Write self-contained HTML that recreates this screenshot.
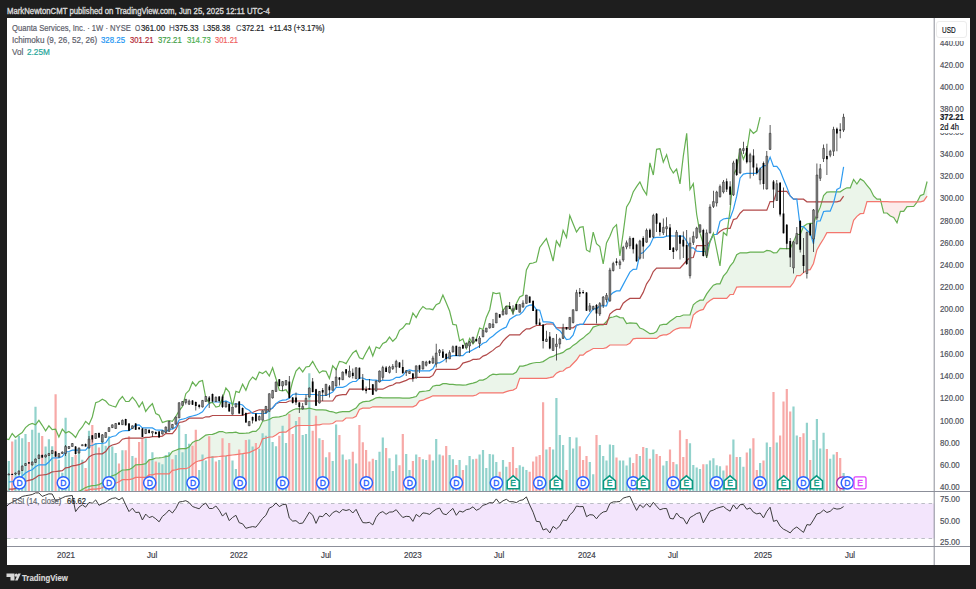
<!DOCTYPE html>
<html><head><meta charset="utf-8">
<style>
html,body{margin:0;padding:0;}
body{width:976px;height:589px;background:#1e1e1e;position:relative;overflow:hidden;font-family:"Liberation Sans",sans-serif;}
#chart{position:absolute;left:7px;top:18px;width:963px;height:546.6px;background:#fff;}
svg{position:absolute;left:0;top:0;}
.mk{font:8.5px "Liberation Sans",sans-serif;text-anchor:middle;stroke-width:0.35px;}
.t{position:absolute;white-space:nowrap;line-height:1;transform-origin:0 0;}
</style></head><body>
<div id="chart"></div>
<svg width="976" height="589" viewBox="0 0 976 589">
<defs><clipPath id="cm"><rect x="7" y="18" width="927.5" height="473"/></clipPath><clipPath id="cr"><rect x="7" y="492" width="927.5" height="54"/></clipPath></defs>
<g clip-path="url(#cm)">
<path d="M55.6 494.7L59.1 494.3L59.1 494.8L55.6 494.8ZM58.9 494.3L62.5 493.9L62.5 494.8L58.9 494.8ZM62.3 493.9L65.8 493.5L65.8 494.8L62.3 494.8ZM65.6 493.5L69.1 493.2L69.1 494.8L65.6 494.8ZM68.9 493.2L72.5 492.8L72.5 494.8L68.9 494.8ZM72.3 492.8L75.8 492.2L75.8 494.8L72.3 494.8ZM75.6 492.2L79.2 491.4L79.2 494.2L75.6 494.8ZM79 491.4L82.5 489.6L82.5 492.5L79 494.2ZM82.3 489.6L85.8 487.6L85.8 490.8L82.3 492.5ZM85.6 487.6L89.2 486.3L89.2 489.7L85.6 490.8ZM89 486.3L92.5 485.6L92.5 489.2L89 489.7ZM92.3 485.6L95.9 485.4L95.9 489.2L92.3 489.2ZM95.7 485.4L99.2 484.6L99.2 488.7L95.7 489.2ZM99 484.6L102.5 482.9L102.5 487.7L99 488.7ZM102.3 482.9L105.9 479.7L105.9 485.2L102.3 487.7ZM105.7 479.7L109.2 477.2L109.2 483.9L105.7 485.2ZM109 477.2L112.5 475.7L112.5 483.4L109 483.9ZM112.3 475.7L115.9 474.7L115.9 483.2L112.3 483.4ZM115.7 474.7L119.2 472.2L119.2 481.7L115.7 483.2ZM119 472.2L122.6 470L122.6 479.7L119 481.7ZM122.4 470L125.9 469.9L125.9 479.7L122.4 479.7ZM125.7 469.9L129.2 469.7L129.2 479.7L125.7 479.7ZM129 469.7L132.6 467.8L132.6 478.9L129 479.7ZM132.4 467.8L135.9 464.9L135.9 477.4L132.4 478.9ZM135.7 464.9L139.3 464.6L139.3 477.4L135.7 477.4ZM139.1 464.6L142.6 464.4L142.6 477.4L139.1 477.4ZM142.4 464.4L145.9 463.6L145.9 477.4L142.4 477.4ZM145.7 463.6L149.3 459.9L149.3 474.9L145.7 477.4ZM149.1 459.9L152.6 459.4L152.6 474.9L149.1 474.9ZM152.4 459.4L156 458L156 473.9L152.4 474.9ZM155.8 458L159.3 457.8L159.3 473.9L155.8 473.9ZM159.1 457.8L162.6 457.5L162.6 473.9L159.1 473.9ZM162.4 457.5L166 456.7L166 473.9L162.4 473.9ZM165.8 456.7L169.3 455.9L169.3 473.9L165.8 473.9ZM169.1 455.9L172.6 451.5L172.6 470.4L169.1 473.9ZM172.4 451.5L176 450.2L176 469.9L172.4 470.4ZM175.8 450.2L179.3 448.9L179.3 468.9L175.8 469.9ZM179.1 448.9L182.7 448.6L182.7 468.7L179.1 468.9ZM182.5 448.6L186 448.6L186 468.7L182.5 468.7ZM185.8 448.6L189.3 447.1L189.3 467.5L185.8 468.7ZM189.1 447.1L192.7 442.4L192.7 464.4L189.1 467.5ZM192.5 442.4L196 440.8L196 462L192.5 464.4ZM195.8 440.8L199.4 440L199.4 460.8L195.8 462ZM199.2 440L202.7 437.6L202.7 460.2L199.2 460.8ZM202.5 437.6L206 435.1L206 458.2L202.5 460.2ZM205.8 435.1L209.4 434.5L209.4 457.4L205.8 458.2ZM209.2 434.5L212.7 434.4L212.7 457.1L209.2 457.4ZM212.5 434.4L216.1 433.1L216.1 456.8L212.5 457.1ZM215.9 433.1L219.4 431.6L219.4 456.5L215.9 456.8ZM219.2 431.6L222.7 431.5L222.7 456.1L219.2 456.5ZM222.5 431.5L226.1 433L226.1 455.8L222.5 456.1ZM225.9 433L229.4 432.6L229.4 455.4L225.9 455.8ZM229.2 432.6L232.7 432.6L232.7 455L229.2 455.4ZM232.5 432.6L236.1 432.2L236.1 454.6L232.5 455ZM235.9 432.2L239.4 433.3L239.4 454.2L235.9 454.6ZM239.2 433.3L242.8 433.4L242.8 453.7L239.2 454.2ZM242.6 433.4L246.1 433.2L246.1 453.1L242.6 453.7ZM245.9 433.2L249.4 432.8L249.4 452.6L245.9 453.1ZM249.2 432.8L252.8 431.4L252.8 451L249.2 452.6ZM252.6 431.4L256.1 431.4L256.1 449.4L252.6 451ZM255.9 431.4L259.5 428.2L259.5 447.2L255.9 449.4ZM259.3 428.2L262.8 421.2L262.8 438.8L259.3 447.2ZM262.6 421.2L266.1 420.5L266.1 438L262.6 438.8ZM265.9 420.5L269.5 419.5L269.5 437L265.9 438ZM269.3 419.5L272.8 417.5L272.8 437L269.3 437ZM272.6 417.5L276.2 417.1L276.2 435L272.6 437ZM276 417.1L279.5 416.8L279.5 432.5L276 435ZM279.3 416.8L282.8 416L282.8 432.2L279.3 432.5ZM282.6 416L286.2 415L286.2 432.2L282.6 432.2ZM286 415L289.5 411.9L289.5 429.5L286 432.2ZM289.3 411.9L292.9 410L292.9 427.5L289.3 429.5ZM292.7 410L296.2 408.8L296.2 425.8L292.7 427.5ZM296 408.8L299.5 408.8L299.5 425.5L296 425.8ZM299.3 408.8L302.9 408.8L302.9 425.5L299.3 425.5ZM302.7 408.8L306.2 408.8L306.2 425.5L302.7 425.5ZM306 408.8L309.5 408.2L309.5 425.5L306 425.5ZM309.3 408.2L312.9 409L312.9 425.5L309.3 425.5ZM312.7 409L316.2 409.8L316.2 424.8L312.7 425.5ZM316 409.8L319.6 409.8L319.6 424.8L316 424.8ZM319.4 409.8L322.9 409.8L322.9 424L319.4 424.8ZM322.7 409.8L326.2 410.2L326.2 424L322.7 424ZM326 410.2L329.6 411.3L329.6 424L326 424ZM329.4 411.3L332.9 411.8L332.9 423.5L329.4 424ZM332.7 411.8L336.3 413L336.3 421L332.7 423.5ZM336.1 413L339.6 412.2L339.6 421L336.1 421ZM339.4 412.2L342.9 411.6L342.9 421L339.4 421ZM342.7 411.6L346.3 411.6L346.3 418L342.7 421ZM346.1 411.6L349.6 411.6L349.6 418L346.1 418ZM349.4 411.6L353 409.8L353 418L349.4 418ZM352.8 409.8L356.3 408L356.3 416.2L352.8 418ZM356.1 408L359.6 403.8L359.6 409.5L356.1 416.2ZM359.4 403.8L363 401.9L363 408.2L359.4 409.5ZM362.8 401.9L366.3 401.4L366.3 408.2L362.8 408.2ZM366.1 401.4L369.6 401.1L369.6 408.2L366.1 408.2ZM369.4 401.1L373 399.6L373 406.8L369.4 408.2ZM372.8 399.6L376.3 397.8L376.3 406.8L372.8 406.8ZM376.1 397.8L379.7 397.4L379.7 406.8L376.1 406.8ZM379.5 397.4L383 397.8L383 406.8L379.5 406.8ZM382.8 397.8L386.3 397.8L386.3 406.8L382.8 406.8ZM386.1 397.8L389.7 397.8L389.7 406.8L386.1 406.8ZM389.5 397.8L393 397.8L393 406.8L389.5 406.8ZM392.8 397.8L396.4 397.8L396.4 406.8L392.8 406.8ZM396.2 397.8L399.7 397.8L399.7 406.8L396.2 406.8ZM399.5 397.8L403 398.2L403 406.8L399.5 406.8ZM402.8 398.2L406.4 398.2L406.4 406.8L402.8 406.8ZM406.2 398.2L409.7 398.2L409.7 406.8L406.2 406.8ZM409.5 398.2L413.1 397.4L413.1 406.8L409.5 406.8ZM412.9 397.4L416.4 396.5L416.4 405.2L412.9 406.8ZM416.2 396.5L419.7 391.8L419.7 400.9L416.2 405.2ZM419.5 391.8L423.1 391.3L423.1 400.2L419.5 400.9ZM422.9 391.3L426.4 391L426.4 398.6L422.9 400.2ZM426.2 391L429.8 390.4L429.8 397.4L426.2 398.6ZM429.6 390.4L433.1 386.2L433.1 395.8L429.6 397.4ZM432.9 386.2L436.4 385.4L436.4 395.8L432.9 395.8ZM436.2 385.4L439.8 385.4L439.8 395.8L436.2 395.8ZM439.6 385.4L443.1 383.6L443.1 395.8L439.6 395.8ZM442.9 383.6L446.4 383.6L446.4 395.8L442.9 395.8ZM446.2 383.6L449.8 384.4L449.8 395.8L446.2 395.8ZM449.6 384.4L453.1 384.4L453.1 395.8L449.6 395.8ZM452.9 384.4L456.5 384.8L456.5 395.8L452.9 395.8ZM456.3 384.8L459.8 384.8L459.8 395.8L456.3 395.8ZM459.6 384.8L463.1 385.2L463.1 395.8L459.6 395.8ZM462.9 385.2L466.5 384.8L466.5 395.8L462.9 395.8ZM466.3 384.8L469.8 383.9L469.8 395.8L466.3 395.8ZM469.6 383.9L473.2 383.1L473.2 395.8L469.6 395.8ZM473 383.1L476.5 382.2L476.5 395L473 395.8ZM476.3 382.2L479.8 380.1L479.8 392.8L476.3 395ZM479.6 380.1L483.2 380.1L483.2 392.8L479.6 392.8ZM483 380.1L486.5 378.6L486.5 392.8L483 392.8ZM486.3 378.6L489.9 375.7L489.9 392.8L486.3 392.8ZM489.7 375.7L493.2 374.2L493.2 392.8L489.7 392.8ZM493 374.2L496.5 374.7L496.5 392.8L493 392.8ZM496.3 374.7L499.9 374.1L499.9 392.8L496.3 392.8ZM499.7 374.1L503.2 374.1L503.2 392.8L499.7 392.8ZM503 374.1L506.5 374.1L506.5 391.6L503 392.8ZM506.3 374.1L509.9 374.1L509.9 390.6L506.3 391.6ZM509.7 374.1L513.2 374.1L513.2 390.1L509.7 390.6ZM513 374.1L516.6 372.1L516.6 388.2L513 390.1ZM516.4 372.1L519.9 366.1L519.9 378.3L516.4 388.2ZM519.7 366.1L523.2 366.1L523.2 378.3L519.7 378.3ZM523 366.1L526.6 365.2L526.6 378.3L523 378.3ZM526.4 365.2L529.9 363.9L529.9 378.3L526.4 378.3ZM529.7 363.9L533.3 363L533.3 378.3L529.7 378.3ZM533.1 363L536.6 362.5L536.6 378.3L533.1 378.3ZM536.4 362.5L539.9 362.5L539.9 378.3L536.4 378.3ZM539.7 362.5L543.3 361.6L543.3 378.3L539.7 378.3ZM543.1 361.6L546.6 359.4L546.6 378.3L543.1 378.3ZM546.4 359.4L550 357.3L550 377.7L546.4 378.3ZM549.8 357.3L553.3 356.4L553.3 376.9L549.8 377.7ZM553.1 356.4L556.6 354.5L556.6 373.2L553.1 376.9ZM556.4 354.5L560 353.6L560 371.4L556.4 373.2ZM559.8 353.6L563.3 352.4L563.3 371L559.8 371.4ZM563.1 352.4L566.7 349.6L566.7 368.1L563.1 371ZM566.5 349.6L570 348.4L570 367L566.5 368.1ZM569.8 348.4L573.3 345.4L573.3 363.5L569.8 367ZM573.1 345.4L576.7 343.2L576.7 360L573.1 363.5ZM576.5 343.2L580 340.2L580 355.2L576.5 360ZM579.8 340.2L583.3 338.1L583.3 355.2L579.8 355.2ZM583.1 338.1L586.7 334.9L586.7 352.1L583.1 355.2ZM586.5 334.9L590 332.4L590 350.5L586.5 352.1ZM589.8 332.4L593.4 327.1L593.4 348.5L589.8 350.5ZM593.2 327.1L596.7 326L596.7 348.5L593.2 348.5ZM596.5 326L600 325L600 348.5L596.5 348.5ZM599.8 325L603.4 324.8L603.4 348.5L599.8 348.5ZM603.2 324.8L606.7 321.5L606.7 347.6L603.2 348.5ZM606.5 321.5L610.1 317.6L610.1 345L606.5 347.6ZM609.9 317.6L613.4 317L613.4 345L609.9 345ZM613.2 317L616.7 315.9L616.7 345L613.2 345ZM616.5 315.9L620.1 317.6L620.1 345L616.5 345ZM619.9 317.6L623.4 317.9L623.4 345L619.9 345ZM623.2 317.9L626.8 323.6L626.8 345L623.2 345ZM626.6 323.6L630.1 322.9L630.1 343.2L626.6 345ZM629.9 322.9L633.4 323.1L633.4 338.8L629.9 343.2ZM633.2 323.1L636.8 323.4L636.8 338.4L633.2 338.8ZM636.6 323.4L640.1 328.1L640.1 338.4L636.6 338.4ZM639.9 328.1L643.4 329.2L643.4 338.4L639.9 338.4ZM643.2 329.2L646.8 331.4L646.8 338.4L643.2 338.4ZM646.6 331.4L650.1 333.7L650.1 338.4L646.6 338.4ZM649.9 333.7L653.5 333.4L653.5 338.4L649.9 338.4ZM653.3 333.4L656.8 331.5L656.8 338.4L653.3 338.4ZM656.6 331.5L660.1 325.2L660.1 335.8L656.6 338.4ZM659.9 325.2L663.5 324.3L663.5 334.9L659.9 335.8ZM663.3 324.3L666.8 324.3L666.8 334.9L663.3 334.9ZM666.6 324.3L670.2 321.3L670.2 333.2L666.6 334.9ZM670 321.3L673.5 318.9L673.5 330.5L670 333.2ZM673.3 318.9L676.8 316.5L676.8 328.8L673.3 330.5ZM676.6 316.5L680.2 316.5L680.2 327.8L676.6 328.8ZM680 316.5L683.5 315L683.5 327.8L680 327.8ZM683.3 315L686.9 315L686.9 327.8L683.3 327.8ZM686.7 315L690.2 315L690.2 327.8L686.7 327.8ZM690 315L693.5 304.9L693.5 315.1L690 327.8ZM693.3 304.9L696.9 301.9L696.9 312.1L693.3 315.1ZM696.7 301.9L700.2 300.1L700.2 310.3L696.7 312.1ZM700 300.1L703.5 300.1L703.5 309.4L700 310.3ZM703.3 300.1L706.9 293.9L706.9 303.2L703.3 309.4ZM706.7 293.9L710.2 289.4L710.2 300.5L706.7 303.2ZM710 289.4L713.6 285.2L713.6 298.4L710 300.5ZM713.4 285.2L716.9 283.9L716.9 298.4L713.4 298.4ZM716.7 283.9L720.2 283.8L720.2 298.4L716.7 298.4ZM720 283.8L723.6 276.2L723.6 298.4L720 298.4ZM723.4 276.2L726.9 272.5L726.9 298.4L723.4 298.4ZM726.7 272.5L730.3 266.2L730.3 294.5L726.7 298.4ZM730.1 266.2L733.6 262.1L733.6 294.5L730.1 294.5ZM733.4 262.1L736.9 254.7L736.9 287.1L733.4 294.5ZM736.7 254.7L740.3 252.8L740.3 286.8L736.7 287.1ZM740.1 252.8L743.6 252.8L743.6 286.8L740.1 286.8ZM743.4 252.8L747 252.8L747 286.8L743.4 286.8ZM746.8 252.8L750.3 252.2L750.3 286.8L746.8 286.8ZM750.1 252.2L753.6 252.1L753.6 286.8L750.1 286.8ZM753.4 252.1L757 252.1L757 286.8L753.4 286.8ZM756.8 252.1L760.3 252.1L760.3 286.8L756.8 286.8ZM760.1 252.1L763.7 252.2L763.7 286.8L760.1 286.8ZM763.5 252.2L767 250.4L767 286.8L763.5 286.8ZM766.8 250.4L770.3 250.8L770.3 286.8L766.8 286.8ZM770.1 250.8L773.7 252.8L773.7 286.8L770.1 286.8ZM773.5 252.8L777 252.6L777 286.8L773.5 286.8ZM776.8 252.6L780.3 248.4L780.3 286.8L776.8 286.8ZM780.1 248.4L783.7 248.6L783.7 286.8L780.1 286.8ZM783.5 248.6L787 248.6L787 286.8L783.5 286.8ZM786.8 248.6L790.4 248.6L790.4 286.8L786.8 286.8ZM790.2 248.6L793.7 241.4L793.7 282.5L790.2 286.8ZM793.5 241.4L797 234.5L797 275.6L793.5 282.5ZM796.8 234.5L800.4 234.5L800.4 275.6L796.8 275.6ZM800.2 234.5L803.7 226.4L803.7 272.6L800.2 275.6ZM803.5 226.4L807.1 224L807.1 270.2L803.5 272.6ZM806.9 224L810.4 223.3L810.4 269.6L806.9 270.2ZM810.2 223.3L813.7 223.3L813.7 263.5L810.2 269.6ZM813.5 223.3L817.1 214.5L817.1 249.9L813.5 263.5ZM816.9 214.5L820.4 207.4L820.4 244.1L816.9 249.9ZM820.2 207.4L823.8 195.5L823.8 238.7L820.2 244.1ZM823.6 195.5L827.1 192.1L827.1 232.7L823.6 238.7ZM826.9 192.1L830.4 191.8L830.4 232.7L826.9 232.7ZM830.2 191.8L833.8 191.8L833.8 232.7L830.2 232.7ZM833.6 191.8L837.1 191.8L837.1 232.7L833.6 232.7ZM836.9 191.8L840.4 191.8L840.4 232.7L836.9 232.7ZM840.2 191.8L843.8 189.5L843.8 232.7L840.2 232.7ZM843.6 189.5L847.1 187.8L847.1 232.7L843.6 232.7ZM846.9 187.8L850.5 187.8L850.5 232.7L846.9 232.7ZM850.3 187.8L853.8 179.4L853.8 220.4L850.3 232.7ZM853.6 179.4L857.1 184L857.1 216.4L853.6 220.4ZM856.9 184L860.5 178.9L860.5 213.7L856.9 216.4ZM860.3 178.9L863.8 181L863.8 213.4L860.3 213.7ZM863.6 181L867.2 185.3L867.2 201.6L863.6 213.4ZM867 185.3L870.5 189.3L870.5 201.6L867 201.6ZM870.3 189.3L873.8 195.9L873.8 201.6L870.3 201.6ZM873.6 195.9L877.2 199.2L877.2 201.6L873.6 201.6ZM877 199.2L880.5 199.2L880.5 201.6L877 201.6ZM917 202.2L920.6 195.6L920.6 201.8L917 201.8ZM920.4 195.6L923.9 194.3L923.9 200.9L920.4 201.8ZM923.7 194.3L927.3 181.5L927.3 196.2L923.7 200.9Z" fill="#ebf5ea"/>
<path d="M5.5 490.4L9 492.2L9 492.1L5.5 490.3ZM8.8 492.2L12.4 493.6L12.4 493.5L8.8 492.1ZM12.2 493.6L15.7 495L15.7 494.8L12.2 493.5ZM15.5 495L19.1 495L19.1 494.8L15.5 494.8ZM18.9 495L22.4 495.1L22.4 494.8L18.9 494.8ZM22.2 495.1L25.7 495.1L25.7 494.8L22.2 494.8ZM25.5 495.1L29.1 496.1L29.1 494.8L25.5 494.8ZM28.9 496.1L32.4 497L32.4 494.8L28.9 494.8ZM32.2 497L35.7 497.3L35.7 494.8L32.2 494.8ZM35.5 497.3L39.1 497.1L39.1 494.8L35.5 494.8ZM38.9 497.1L42.4 496.9L42.4 494.8L38.9 494.8ZM42.2 496.9L45.8 496.3L45.8 494.8L42.2 494.8ZM45.6 496.3L49.1 495.7L49.1 494.8L45.6 494.8ZM48.9 495.7L52.4 495.1L52.4 494.8L48.9 494.8ZM52.2 495.1L55.8 494.7L55.8 494.8L52.2 494.8ZM880.3 199.2L883.9 213L883.9 201.6L880.3 201.6ZM883.7 213L887.2 213L887.2 201.6L883.7 201.6ZM887 213L890.5 216L890.5 201.8L887 201.6ZM890.3 216L893.9 217.4L893.9 201.8L890.3 201.8ZM893.7 217.4L897.2 222.8L897.2 201.8L893.7 201.8ZM897 222.8L900.6 211.4L900.6 201.8L897 201.8ZM900.4 211.4L903.9 211.4L903.9 201.8L900.4 201.8ZM903.7 211.4L907.2 206.6L907.2 201.8L903.7 201.8ZM907 206.6L910.6 206.5L910.6 201.8L907 201.8ZM910.4 206.5L913.9 206.5L913.9 201.8L910.4 201.8ZM913.7 206.5L917.2 202.2L917.2 201.8L913.7 201.8Z" fill="#fcebea"/>
<path d="M7.7 461.1h2.2V491.5h-2.2ZM14.4 439.5h2.2V491.5h-2.2ZM17.8 435.8h2.2V491.5h-2.2ZM21.1 438.2h2.2V491.5h-2.2ZM24.4 434.1h2.2V491.5h-2.2ZM31.1 429.8h2.2V491.5h-2.2ZM34.4 406.8h2.2V491.5h-2.2ZM37.8 432.8h2.2V491.5h-2.2ZM44.5 446.6h2.2V491.5h-2.2ZM47.8 439.3h2.2V491.5h-2.2ZM51.1 446.2h2.2V491.5h-2.2ZM57.8 459.7h2.2V491.5h-2.2ZM61.2 472.7h2.2V491.5h-2.2ZM64.5 417.7h2.2V491.5h-2.2ZM67.8 452.2h2.2V491.5h-2.2ZM71.2 456.9h2.2V491.5h-2.2ZM77.9 448.5h2.2V491.5h-2.2ZM81.2 459.7h2.2V491.5h-2.2ZM87.9 430.7h2.2V491.5h-2.2ZM94.6 442.9h2.2V491.5h-2.2ZM101.2 437.3h2.2V491.5h-2.2ZM104.6 445.7h2.2V491.5h-2.2ZM107.9 436.3h2.2V491.5h-2.2ZM111.2 446.6h2.2V491.5h-2.2ZM114.6 453.1h2.2V491.5h-2.2ZM121.3 450.3h2.2V491.5h-2.2ZM131.3 455.9h2.2V491.5h-2.2ZM144.6 438.2h2.2V491.5h-2.2ZM151.3 452.2h2.2V491.5h-2.2ZM158 462.5h2.2V491.5h-2.2ZM161.3 464.3h2.2V491.5h-2.2ZM164.7 455h2.2V491.5h-2.2ZM168 452.2h2.2V491.5h-2.2ZM174.7 455h2.2V491.5h-2.2ZM178 425.1h2.2V491.5h-2.2ZM181.4 452.2h2.2V491.5h-2.2ZM184.7 433.9h2.2V491.5h-2.2ZM188 443.8h2.2V491.5h-2.2ZM198.1 470h2.2V491.5h-2.2ZM201.4 454.4h2.2V491.5h-2.2ZM204.7 460.6h2.2V491.5h-2.2ZM211.4 455.9h2.2V491.5h-2.2ZM218.1 460h2.2V491.5h-2.2ZM224.8 455.9h2.2V491.5h-2.2ZM231.4 460.6h2.2V491.5h-2.2ZM234.8 469h2.2V491.5h-2.2ZM241.5 454h2.2V491.5h-2.2ZM248.1 439.5h2.2V491.5h-2.2ZM251.5 446.6h2.2V491.5h-2.2ZM258.2 448.5h2.2V491.5h-2.2ZM261.5 433.2h2.2V491.5h-2.2ZM264.8 435.8h2.2V491.5h-2.2ZM268.2 412.1h2.2V491.5h-2.2ZM271.5 441.9h2.2V491.5h-2.2ZM274.9 446.2h2.2V491.5h-2.2ZM281.5 425.7h2.2V491.5h-2.2ZM284.9 442.9h2.2V491.5h-2.2ZM294.9 421h2.2V491.5h-2.2ZM301.6 435h2.2V491.5h-2.2ZM304.9 433.9h2.2V491.5h-2.2ZM308.2 373.2h2.2V491.5h-2.2ZM318.3 438.2h2.2V491.5h-2.2ZM324.9 457.2h2.2V491.5h-2.2ZM331.6 461.1h2.2V491.5h-2.2ZM335 424.6h2.2V491.5h-2.2ZM341.6 454.4h2.2V491.5h-2.2ZM348.3 459.3h2.2V491.5h-2.2ZM355 463.4h2.2V491.5h-2.2ZM375 460h2.2V491.5h-2.2ZM378.4 451.8h2.2V491.5h-2.2ZM381.7 437.6h2.2V491.5h-2.2ZM388.4 458.2h2.2V491.5h-2.2ZM391.7 470.9h2.2V491.5h-2.2ZM395.1 454.4h2.2V491.5h-2.2ZM405.1 454h2.2V491.5h-2.2ZM408.4 470h2.2V491.5h-2.2ZM415.1 454.4h2.2V491.5h-2.2ZM421.8 459.3h2.2V491.5h-2.2ZM425.1 460h2.2V491.5h-2.2ZM431.8 460.6h2.2V491.5h-2.2ZM435.1 439.1h2.2V491.5h-2.2ZM438.5 454.4h2.2V491.5h-2.2ZM448.5 455h2.2V491.5h-2.2ZM451.8 459.3h2.2V491.5h-2.2ZM458.5 460h2.2V491.5h-2.2ZM465.2 465.3h2.2V491.5h-2.2ZM468.5 455.9h2.2V491.5h-2.2ZM471.9 459.3h2.2V491.5h-2.2ZM478.5 454.4h2.2V491.5h-2.2ZM481.9 450h2.2V491.5h-2.2ZM485.2 468h2.2V491.5h-2.2ZM488.6 454h2.2V491.5h-2.2ZM491.9 454.4h2.2V491.5h-2.2ZM495.2 461.9h2.2V491.5h-2.2ZM501.9 460h2.2V491.5h-2.2ZM505.2 466.7h2.2V491.5h-2.2ZM518.6 465.3h2.2V491.5h-2.2ZM521.9 466.7h2.2V491.5h-2.2ZM525.3 469.9h2.2V491.5h-2.2ZM545.3 449.4h2.2V491.5h-2.2ZM552 449.4h2.2V491.5h-2.2ZM555.3 398.1h2.2V491.5h-2.2ZM558.7 435h2.2V491.5h-2.2ZM562 445.1h2.2V491.5h-2.2ZM568.7 436.9h2.2V491.5h-2.2ZM572 448.5h2.2V491.5h-2.2ZM575.4 437.6h2.2V491.5h-2.2ZM588.7 461.9h2.2V491.5h-2.2ZM592.1 474.2h2.2V491.5h-2.2ZM598.7 445.1h2.2V491.5h-2.2ZM602.1 455.9h2.2V491.5h-2.2ZM605.4 460.6h2.2V491.5h-2.2ZM608.8 444.4h2.2V491.5h-2.2ZM612.1 445.1h2.2V491.5h-2.2ZM618.8 460.6h2.2V491.5h-2.2ZM622.1 460.6h2.2V491.5h-2.2ZM625.5 465.6h2.2V491.5h-2.2ZM628.8 457.4h2.2V491.5h-2.2ZM638.8 455.9h2.2V491.5h-2.2ZM645.5 448.1h2.2V491.5h-2.2ZM652.2 449.4h2.2V491.5h-2.2ZM662.2 465.6h2.2V491.5h-2.2ZM665.5 461.1h2.2V491.5h-2.2ZM675.5 464.3h2.2V491.5h-2.2ZM688.9 443.2h2.2V491.5h-2.2ZM692.2 464.9h2.2V491.5h-2.2ZM695.6 467.5h2.2V491.5h-2.2ZM698.9 469h2.2V491.5h-2.2ZM705.6 464.3h2.2V491.5h-2.2ZM708.9 460.6h2.2V491.5h-2.2ZM712.3 458.2h2.2V491.5h-2.2ZM715.6 465.3h2.2V491.5h-2.2ZM718.9 466.2h2.2V491.5h-2.2ZM722.3 470.5h2.2V491.5h-2.2ZM732.3 439.5h2.2V491.5h-2.2ZM739 456.9h2.2V491.5h-2.2ZM742.3 466.7h2.2V491.5h-2.2ZM749 448.5h2.2V491.5h-2.2ZM759 463h2.2V491.5h-2.2ZM765.7 442.5h2.2V491.5h-2.2ZM769 447h2.2V491.5h-2.2ZM775.7 442.5h2.2V491.5h-2.2ZM792.4 406.5h2.2V491.5h-2.2ZM795.7 435.4h2.2V491.5h-2.2ZM805.8 422.7h2.2V491.5h-2.2ZM812.4 440.1h2.2V491.5h-2.2ZM815.8 419h2.2V491.5h-2.2ZM819.1 448.6h2.2V491.5h-2.2ZM822.5 432.7h2.2V491.5h-2.2ZM829.1 458.8h2.2V491.5h-2.2ZM832.5 454.5h2.2V491.5h-2.2ZM842.5 472.9h2.2V491.5h-2.2Z" fill="#92d2cc"/>
<path d="M11.1 441.5h2.2V491.5h-2.2ZM27.8 442.1h2.2V491.5h-2.2ZM41.1 436h2.2V491.5h-2.2ZM54.5 394.3h2.2V491.5h-2.2ZM74.5 455h2.2V491.5h-2.2ZM84.5 468h2.2V491.5h-2.2ZM91.2 425.1h2.2V491.5h-2.2ZM97.9 447.5h2.2V491.5h-2.2ZM117.9 463.4h2.2V491.5h-2.2ZM124.6 450.3h2.2V491.5h-2.2ZM127.9 436.3h2.2V491.5h-2.2ZM134.6 457.8h2.2V491.5h-2.2ZM138 441.9h2.2V491.5h-2.2ZM141.3 438.2h2.2V491.5h-2.2ZM148 459.7h2.2V491.5h-2.2ZM154.7 461.5h2.2V491.5h-2.2ZM171.3 459.3h2.2V491.5h-2.2ZM191.4 445.7h2.2V491.5h-2.2ZM194.7 429.8h2.2V491.5h-2.2ZM208.1 436.3h2.2V491.5h-2.2ZM214.8 461.5h2.2V491.5h-2.2ZM221.4 438.2h2.2V491.5h-2.2ZM228.1 442.9h2.2V491.5h-2.2ZM238.1 449.4h2.2V491.5h-2.2ZM244.8 440.1h2.2V491.5h-2.2ZM254.8 442.9h2.2V491.5h-2.2ZM278.2 435.8h2.2V491.5h-2.2ZM288.2 413.9h2.2V491.5h-2.2ZM291.6 433.9h2.2V491.5h-2.2ZM298.2 417.1h2.2V491.5h-2.2ZM311.6 430.7h2.2V491.5h-2.2ZM314.9 415.8h2.2V491.5h-2.2ZM321.6 440.1h2.2V491.5h-2.2ZM328.3 452.2h2.2V491.5h-2.2ZM338.3 435h2.2V491.5h-2.2ZM345 459.7h2.2V491.5h-2.2ZM351.7 451.8h2.2V491.5h-2.2ZM358.3 425.1h2.2V491.5h-2.2ZM361.7 442.3h2.2V491.5h-2.2ZM365 449.9h2.2V491.5h-2.2ZM368.3 461.5h2.2V491.5h-2.2ZM371.7 458.7h2.2V491.5h-2.2ZM385 448.1h2.2V491.5h-2.2ZM398.4 465.3h2.2V491.5h-2.2ZM401.7 434.1h2.2V491.5h-2.2ZM411.8 461.1h2.2V491.5h-2.2ZM418.4 457h2.2V491.5h-2.2ZM428.5 454.4h2.2V491.5h-2.2ZM441.8 455.5h2.2V491.5h-2.2ZM445.1 446h2.2V491.5h-2.2ZM455.2 464.9h2.2V491.5h-2.2ZM461.8 469.9h2.2V491.5h-2.2ZM475.2 458.7h2.2V491.5h-2.2ZM498.6 471.8h2.2V491.5h-2.2ZM508.6 461.9h2.2V491.5h-2.2ZM511.9 447h2.2V491.5h-2.2ZM515.3 468h2.2V491.5h-2.2ZM528.6 471.8h2.2V491.5h-2.2ZM532 461.5h2.2V491.5h-2.2ZM535.3 456.5h2.2V491.5h-2.2ZM538.6 455h2.2V491.5h-2.2ZM542 402.2h2.2V491.5h-2.2ZM548.7 447h2.2V491.5h-2.2ZM565.4 469.9h2.2V491.5h-2.2ZM578.7 446.2h2.2V491.5h-2.2ZM582 460h2.2V491.5h-2.2ZM585.4 455.9h2.2V491.5h-2.2ZM595.4 435h2.2V491.5h-2.2ZM615.4 457.4h2.2V491.5h-2.2ZM632.1 463h2.2V491.5h-2.2ZM635.5 454h2.2V491.5h-2.2ZM642.1 447h2.2V491.5h-2.2ZM648.8 458.7h2.2V491.5h-2.2ZM655.5 454h2.2V491.5h-2.2ZM658.8 455.9h2.2V491.5h-2.2ZM668.9 449.4h2.2V491.5h-2.2ZM672.2 461.9h2.2V491.5h-2.2ZM678.9 430.2h2.2V491.5h-2.2ZM682.2 456.9h2.2V491.5h-2.2ZM685.6 439.1h2.2V491.5h-2.2ZM702.2 464.3h2.2V491.5h-2.2ZM725.6 465.6h2.2V491.5h-2.2ZM729 454.4h2.2V491.5h-2.2ZM735.6 456.9h2.2V491.5h-2.2ZM745.7 452.6h2.2V491.5h-2.2ZM752.3 438.2h2.2V491.5h-2.2ZM755.7 469.9h2.2V491.5h-2.2ZM762.4 460.6h2.2V491.5h-2.2ZM772.4 392.1h2.2V491.5h-2.2ZM779 435.4h2.2V491.5h-2.2ZM782.4 401.4h2.2V491.5h-2.2ZM785.7 389.1h2.2V491.5h-2.2ZM789.1 411.5h2.2V491.5h-2.2ZM799.1 436.9h2.2V491.5h-2.2ZM802.4 433.2h2.2V491.5h-2.2ZM809.1 460h2.2V491.5h-2.2ZM825.8 448.9h2.2V491.5h-2.2ZM835.8 451.9h2.2V491.5h-2.2ZM839.1 457.9h2.2V491.5h-2.2Z" fill="#f7a9a7"/>
</g>
<g clip-path="url(#cm)">
<path d="M5.5 490.4L8.8 492.2L12.2 493.6L15.5 495L18.9 495L22.2 495.1L25.5 495.1L28.9 496.1L32.2 497L35.5 497.3L38.9 497.1L42.2 496.9L45.6 496.3L48.9 495.7L52.2 495.1L55.6 494.7L58.9 494.3L62.3 493.9L65.6 493.5L68.9 493.2L72.3 492.8L75.6 492.2L79 491.4L82.3 489.6L85.6 487.6L89 486.3L92.3 485.6L95.7 485.4L99 484.6L102.3 482.9L105.7 479.7L109 477.2L112.3 475.7L115.7 474.7L119 472.2L122.4 470L125.7 469.9L129 469.7L132.4 467.8L135.7 464.9L139.1 464.6L142.4 464.4L145.7 463.6L149.1 459.9L152.4 459.4L155.8 458L159.1 457.8L162.4 457.5L165.8 456.7L169.1 455.9L172.4 451.5L175.8 450.2L179.1 448.9L182.5 448.6L185.8 448.6L189.1 447.1L192.5 442.4L195.8 440.8L199.2 440L202.5 437.6L205.8 435.1L209.2 434.5L212.5 434.4L215.9 433.1L219.2 431.6L222.5 431.5L225.9 433L229.2 432.6L232.5 432.6L235.9 432.2L239.2 433.3L242.6 433.4L245.9 433.2L249.2 432.8L252.6 431.4L255.9 431.4L259.3 428.2L262.6 421.2L265.9 420.5L269.3 419.5L272.6 417.5L276 417.1L279.3 416.8L282.6 416L286 415L289.3 411.9L292.7 410L296 408.8L299.3 408.8L302.7 408.8L306 408.8L309.3 408.2L312.7 409L316 409.8L319.4 409.8L322.7 409.8L326 410.2L329.4 411.3L332.7 411.8L336.1 413L339.4 412.2L342.7 411.6L346.1 411.6L349.4 411.6L352.8 409.8L356.1 408L359.4 403.8L362.8 401.9L366.1 401.4L369.4 401.1L372.8 399.6L376.1 397.8L379.5 397.4L382.8 397.8L386.1 397.8L389.5 397.8L392.8 397.8L396.2 397.8L399.5 397.8L402.8 398.2L406.2 398.2L409.5 398.2L412.9 397.4L416.2 396.5L419.5 391.8L422.9 391.3L426.2 391L429.6 390.4L432.9 386.2L436.2 385.4L439.6 385.4L442.9 383.6L446.2 383.6L449.6 384.4L452.9 384.4L456.3 384.8L459.6 384.8L462.9 385.2L466.3 384.8L469.6 383.9L473 383.1L476.3 382.2L479.6 380.1L483 380.1L486.3 378.6L489.7 375.7L493 374.2L496.3 374.7L499.7 374.1L503 374.1L506.3 374.1L509.7 374.1L513 374.1L516.4 372.1L519.7 366.1L523 366.1L526.4 365.2L529.7 363.9L533.1 363L536.4 362.5L539.7 362.5L543.1 361.6L546.4 359.4L549.8 357.3L553.1 356.4L556.4 354.5L559.8 353.6L563.1 352.4L566.5 349.6L569.8 348.4L573.1 345.4L576.5 343.2L579.8 340.2L583.1 338.1L586.5 334.9L589.8 332.4L593.2 327.1L596.5 326L599.8 325L603.2 324.8L606.5 321.5L609.9 317.6L613.2 317L616.5 315.9L619.9 317.6L623.2 317.9L626.6 323.6L629.9 322.9L633.2 323.1L636.6 323.4L639.9 328.1L643.2 329.2L646.6 331.4L649.9 333.7L653.3 333.4L656.6 331.5L659.9 325.2L663.3 324.3L666.6 324.3L670 321.3L673.3 318.9L676.6 316.5L680 316.5L683.3 315L686.7 315L690 315L693.3 304.9L696.7 301.9L700 300.1L703.3 300.1L706.7 293.9L710 289.4L713.4 285.2L716.7 283.9L720 283.8L723.4 276.2L726.7 272.5L730.1 266.2L733.4 262.1L736.7 254.7L740.1 252.8L743.4 252.8L746.8 252.8L750.1 252.2L753.4 252.1L756.8 252.1L760.1 252.1L763.5 252.2L766.8 250.4L770.1 250.8L773.5 252.8L776.8 252.6L780.1 248.4L783.5 248.6L786.8 248.6L790.2 248.6L793.5 241.4L796.8 234.5L800.2 234.5L803.5 226.4L806.9 224L810.2 223.3L813.5 223.3L816.9 214.5L820.2 207.4L823.6 195.5L826.9 192.1L830.2 191.8L833.6 191.8L836.9 191.8L840.2 191.8L843.6 189.5L846.9 187.8L850.3 187.8L853.6 179.4L856.9 184L860.3 178.9L863.6 181L867 185.3L870.3 189.3L873.6 195.9L877 199.2L880.3 199.2L883.7 213L887 213L890.3 216L893.7 217.4L897 222.8L900.4 211.4L903.7 211.4L907 206.6L910.4 206.5L913.7 206.5L917 202.2L920.4 195.6L923.7 194.3L927.1 181.5" fill="none" stroke="#66b052" stroke-width="1.2"/>
<path d="M5.5 490.3L8.8 492.1L12.2 493.5L15.5 494.8L18.9 494.8L22.2 494.8L25.5 494.8L28.9 494.8L32.2 494.8L35.5 494.8L38.9 494.8L42.2 494.8L45.6 494.8L48.9 494.8L52.2 494.8L55.6 494.8L58.9 494.8L62.3 494.8L65.6 494.8L68.9 494.8L72.3 494.8L75.6 494.8L79 494.2L82.3 492.5L85.6 490.8L89 489.7L92.3 489.2L95.7 489.2L99 488.7L102.3 487.7L105.7 485.2L109 483.9L112.3 483.4L115.7 483.2L119 481.7L122.4 479.7L125.7 479.7L129 479.7L132.4 478.9L135.7 477.4L139.1 477.4L142.4 477.4L145.7 477.4L149.1 474.9L152.4 474.9L155.8 473.9L159.1 473.9L162.4 473.9L165.8 473.9L169.1 473.9L172.4 470.4L175.8 469.9L179.1 468.9L182.5 468.7L185.8 468.7L189.1 467.5L192.5 464.4L195.8 462L199.2 460.8L202.5 460.2L205.8 458.2L209.2 457.4L212.5 457.1L215.9 456.8L219.2 456.5L222.5 456.1L225.9 455.8L229.2 455.4L232.5 455L235.9 454.6L239.2 454.2L242.6 453.7L245.9 453.1L249.2 452.6L252.6 451L255.9 449.4L259.3 447.2L262.6 438.8L265.9 438L269.3 437L272.6 437L276 435L279.3 432.5L282.6 432.2L286 432.2L289.3 429.5L292.7 427.5L296 425.8L299.3 425.5L302.7 425.5L306 425.5L309.3 425.5L312.7 425.5L316 424.8L319.4 424.8L322.7 424L326 424L329.4 424L332.7 423.5L336.1 421L339.4 421L342.7 421L346.1 418L349.4 418L352.8 418L356.1 416.2L359.4 409.5L362.8 408.2L366.1 408.2L369.4 408.2L372.8 406.8L376.1 406.8L379.5 406.8L382.8 406.8L386.1 406.8L389.5 406.8L392.8 406.8L396.2 406.8L399.5 406.8L402.8 406.8L406.2 406.8L409.5 406.8L412.9 406.8L416.2 405.2L419.5 400.9L422.9 400.2L426.2 398.6L429.6 397.4L432.9 395.8L436.2 395.8L439.6 395.8L442.9 395.8L446.2 395.8L449.6 395.8L452.9 395.8L456.3 395.8L459.6 395.8L462.9 395.8L466.3 395.8L469.6 395.8L473 395.8L476.3 395L479.6 392.8L483 392.8L486.3 392.8L489.7 392.8L493 392.8L496.3 392.8L499.7 392.8L503 392.8L506.3 391.6L509.7 390.6L513 390.1L516.4 388.2L519.7 378.3L523 378.3L526.4 378.3L529.7 378.3L533.1 378.3L536.4 378.3L539.7 378.3L543.1 378.3L546.4 378.3L549.8 377.7L553.1 376.9L556.4 373.2L559.8 371.4L563.1 371L566.5 368.1L569.8 367L573.1 363.5L576.5 360L579.8 355.2L583.1 355.2L586.5 352.1L589.8 350.5L593.2 348.5L596.5 348.5L599.8 348.5L603.2 348.5L606.5 347.6L609.9 345L613.2 345L616.5 345L619.9 345L623.2 345L626.6 345L629.9 343.2L633.2 338.8L636.6 338.4L639.9 338.4L643.2 338.4L646.6 338.4L649.9 338.4L653.3 338.4L656.6 338.4L659.9 335.8L663.3 334.9L666.6 334.9L670 333.2L673.3 330.5L676.6 328.8L680 327.8L683.3 327.8L686.7 327.8L690 327.8L693.3 315.1L696.7 312.1L700 310.3L703.3 309.4L706.7 303.2L710 300.5L713.4 298.4L716.7 298.4L720 298.4L723.4 298.4L726.7 298.4L730.1 294.5L733.4 294.5L736.7 287.1L740.1 286.8L743.4 286.8L746.8 286.8L750.1 286.8L753.4 286.8L756.8 286.8L760.1 286.8L763.5 286.8L766.8 286.8L770.1 286.8L773.5 286.8L776.8 286.8L780.1 286.8L783.5 286.8L786.8 286.8L790.2 286.8L793.5 282.5L796.8 275.6L800.2 275.6L803.5 272.6L806.9 270.2L810.2 269.6L813.5 263.5L816.9 249.9L820.2 244.1L823.6 238.7L826.9 232.7L830.2 232.7L833.6 232.7L836.9 232.7L840.2 232.7L843.6 232.7L846.9 232.7L850.3 232.7L853.6 220.4L856.9 216.4L860.3 213.7L863.6 213.4L867 201.6L870.3 201.6L873.6 201.6L877 201.6L880.3 201.6L883.7 201.6L887 201.6L890.3 201.8L893.7 201.8L897 201.8L900.4 201.8L903.7 201.8L907 201.8L910.4 201.8L913.7 201.8L917 201.8L920.4 201.8L923.7 200.9L927.1 196.2" fill="none" stroke="#f4766e" stroke-width="1.2"/>
<path d="M8.8 489.2L12.2 489.2L15.5 488.7L18.9 486.8L22.2 483.4L25.5 481.2L28.9 480.3L32.2 479.7L35.5 477.7L38.9 475.3L42.2 475L45.6 474.7L48.9 473.6L52.2 471.8L55.6 471.5L58.9 471.1L62.3 470.7L65.6 467.8L68.9 467.4L72.3 465.8L75.6 465.3L79 464.7L82.3 463.1L85.6 461.5L89 456.9L92.3 455L95.7 454L99 453.8L102.3 453.8L105.7 451.5L109 446.8L112.3 445L115.7 444.2L119 442.8L122.4 439.2L125.7 438.4L129 438.1L132.4 438.1L135.7 438.1L139.1 438.1L142.4 438.1L145.7 437.4L149.1 437.4L152.4 436.6L155.8 436.6L159.1 436.6L162.4 436.1L165.8 433.6L169.1 433.6L172.4 433.6L175.8 429.5L179.1 422.5L182.5 421.8L185.8 420.8L189.1 418.2L192.5 418.2L195.8 418.2L199.2 418.2L202.5 418.2L205.8 416.8L209.2 416.8L212.5 415.5L215.9 415.5L219.2 415.5L222.5 415.5L225.9 415.5L229.2 415.5L232.5 415.5L235.9 415.5L239.2 415.5L242.6 415.5L245.9 414L249.2 413.2L252.6 412.5L255.9 411L259.3 409.8L262.6 409.8L265.9 409.8L269.3 409.8L272.6 408L276 403.8L279.3 402.5L282.6 402.5L286 402.5L289.3 401L292.7 401L296 401L299.3 401L302.7 401L306 401L309.3 401L312.7 401L316 401L319.4 401L322.7 401L326 401L329.4 401L332.7 401L336.1 396.1L339.4 395.1L342.7 394.6L346.1 394.6L349.4 389.2L352.8 389.2L356.1 389.2L359.4 389.2L362.8 389.2L366.1 389.2L369.4 389.2L372.8 389.2L376.1 389.2L379.5 389.2L382.8 389.2L386.1 387.5L389.5 385.8L392.8 385L396.2 382.9L399.5 382.9L402.8 381.6L406.2 380.4L409.5 378.6L412.9 378.6L416.2 377.3L419.5 377.3L422.9 377.3L426.2 377.3L429.6 377.3L432.9 375.4L436.2 369.4L439.6 369.4L442.9 369.4L446.2 369.4L449.6 369.4L452.9 369.4L456.3 369.4L459.6 367.6L462.9 363.1L466.3 362.1L469.6 361.2L473 359.4L476.3 359.4L479.6 358.9L483 356.1L486.3 354.9L489.7 352.6L493 350.4L496.3 347.4L499.7 345.8L503 341.2L506.3 337.8L509.7 334.8L513 334.8L516.4 334.8L519.7 334.8L523 331.4L526.4 328.8L529.7 328.8L533.1 327L536.4 325.5L539.7 325.5L543.1 325.5L546.4 324L549.8 324L553.1 324L556.4 327.8L559.8 327.8L563.1 327.8L566.5 327.8L569.8 327.8L573.1 327.8L576.5 325.2L579.8 324.3L583.1 324.3L586.5 324.3L589.8 324.3L593.2 324.3L596.5 324.3L599.8 324.3L603.2 324.3L606.5 324.3L609.9 314.1L613.2 311.2L616.5 309.4L619.9 309.4L623.2 303.2L626.6 300.5L629.9 298.4L633.2 298.4L636.6 298.4L639.9 298.4L643.2 292.4L646.6 283.8L649.9 279L653.3 271.6L656.6 268.2L659.9 268.2L663.3 268.2L666.6 268.2L670 268.2L673.3 268.2L676.6 268.2L680 268.2L683.3 264.5L686.7 260.5L690 257.8L693.3 257.5L696.7 245.7L700 245.7L703.3 245.7L706.7 245.7L710 241.4L713.4 234.5L716.7 234.5L720 231.5L723.4 229.2L726.7 228.4L730.1 228.4L733.4 219.6L736.7 218.6L740.1 213.2L743.4 210.1L746.8 210.1L750.1 210.1L753.4 210.1L756.8 210.1L760.1 210.1L763.5 210.1L766.8 210.1L770.1 201.6L773.5 201.6L776.8 191.4L780.1 191.4L783.5 191.4L786.8 191.4L790.2 195.9L793.5 199.2L796.8 199.2L800.2 199.2L803.5 199.2L806.9 201.8L810.2 201.8L813.5 201.8L816.9 201.8L820.2 201.8L823.6 201.8L826.9 201.8L830.2 201.8L833.6 201.8L836.9 201.8L840.2 200.9L843.6 196.2" fill="none" stroke="#b24a4a" stroke-width="1.2"/>
<path d="M8.8 482L12.2 481.6L15.5 480.6L18.9 479L22.2 476L25.5 473.1L28.9 471L32.2 469.7L35.5 466.8L38.9 464.8L42.2 464.8L45.6 464.8L48.9 462L52.2 458L55.6 457.8L58.9 457.8L62.3 456.5L65.6 452L68.9 451.5L72.3 450.2L75.6 450.2L79 450.2L82.3 450.2L85.6 450.2L89 446L92.3 445.5L95.7 443.8L99 443.5L102.3 443.5L105.7 442.8L109 438L112.3 436.5L115.7 435.8L119 432.5L122.4 431L125.7 430.6L129 430.6L132.4 428.1L135.7 425.1L139.1 424.9L142.4 427.9L145.7 427.9L149.1 427.9L152.4 427.9L155.8 430L159.1 430.2L162.4 430.2L165.8 432L169.1 429.2L172.4 429.2L175.8 427L179.1 420L182.5 419.2L185.8 418.2L189.1 416.8L192.5 416L195.8 415.2L199.2 413.8L202.5 411.8L205.8 407L209.2 403.2L212.5 402L215.9 402L219.2 402L222.5 402L225.9 401L229.2 402.5L232.5 404L235.9 404L239.2 404L242.6 405L245.9 408.6L249.2 410.2L252.6 413.5L255.9 413.5L259.3 413.5L262.6 413.5L265.9 413.5L269.3 409.8L272.6 408L276 403.8L279.3 401.2L282.6 400.2L286 399.8L289.3 398.2L292.7 394.5L296 393.8L299.3 394.5L302.7 394.5L306 394.5L309.3 394.5L312.7 394.5L316 394.5L319.4 395.5L322.7 395.5L326 395.5L329.4 393.8L332.7 392L336.1 387.4L339.4 387.4L342.7 387.4L346.1 386.1L349.4 383.2L352.8 381.5L356.1 381.5L359.4 378L362.8 378L366.1 379.6L369.4 379.6L372.8 380.2L376.1 380.2L379.5 381.2L382.8 380.4L386.1 380.4L389.5 380.4L392.8 379.5L396.2 377.3L399.5 377.3L402.8 375.6L406.2 371.1L409.5 369.8L412.9 370.8L416.2 370.8L419.5 370.8L422.9 370.8L426.2 370.8L429.6 370.8L432.9 368.8L436.2 362.8L439.6 362.8L442.9 361.1L446.2 358.4L449.6 356.6L452.9 355.6L456.3 355.6L459.6 355.6L462.9 355.6L466.3 352.4L469.6 351.6L473 349.7L476.3 347.9L479.6 346L483 343.2L486.3 342L489.7 338.2L493 336L496.3 333L499.7 330.5L503 328.6L506.3 327L509.7 319.5L513 317.2L516.4 315.2L519.7 314.8L523 311.6L526.4 306.5L529.7 305.2L533.1 304.9L536.4 309.7L539.7 310.2L543.1 321.8L546.4 321.8L549.8 322.1L553.1 322.8L556.4 328.5L559.8 330.7L563.1 334.9L566.5 339.6L569.8 339L573.1 335.1L576.5 325.2L579.8 324.3L583.1 324.3L586.5 318.2L589.8 313.5L593.2 308.8L596.5 308.8L599.8 305.8L603.2 305.8L606.5 305.8L609.9 295.6L613.2 292.6L616.5 290.9L619.9 290.9L623.2 284.6L626.6 278.2L629.9 272.1L633.2 269.4L636.6 269.1L639.9 253.9L643.2 252.6L646.6 248.7L649.9 245.2L653.3 237.8L656.6 237.4L659.9 237.4L663.3 237.4L666.6 236.2L670 235.9L673.3 236L676.6 236L680 236.2L683.3 236.2L686.7 241.1L690 247.8L693.3 247.8L696.7 251.2L700 251.5L703.3 251.5L706.7 251.5L710 241.4L713.4 234.5L716.7 234.5L720 221.3L723.4 219L726.7 218.3L730.1 218.3L733.4 209.4L736.7 196.2L740.1 177.9L743.4 174.1L746.8 173.4L750.1 173.4L753.4 173.4L756.8 173.4L760.1 168.9L763.5 165.6L766.8 165.6L770.1 157.1L773.5 166.4L776.8 166.4L780.1 170.6L783.5 179.2L786.8 187.1L790.2 195.9L793.5 199.2L796.8 199.2L800.2 226.7L803.5 226.7L806.9 230.2L810.2 233.1L813.5 243.8L816.9 221L820.2 221L823.6 211.5L826.9 211.2L830.2 211.2L833.6 202.7L836.9 189.4L840.2 187.7L843.6 166.9" fill="none" stroke="#2e9bf0" stroke-width="1.2"/>
<path d="M5.5 439L8.8 439.5L12.2 433.5L15.5 437.5L18.9 434.8L22.2 432.6L25.5 427.6L28.9 424.8L32.2 423.5L35.5 424.8L38.9 420.3L42.2 425.3L45.6 430.8L48.9 425.8L52.2 429.7L55.6 429.2L58.9 436.9L62.3 429.2L65.6 433L68.9 431.4L72.3 434L75.6 437.4L79 430.8L82.3 427L85.6 421.4L89 424.4L92.3 417L95.7 402.7L99 401.5L102.3 399.3L105.7 401L109 404.8L112.3 406L115.7 407L119 400.4L122.4 396.5L125.7 401.5L129 401.4L132.4 397.2L135.7 401L139.1 407L142.4 402L145.7 411.4L149.1 407L152.4 403.7L155.8 413.6L159.1 415.3L162.4 422.5L165.8 421.4L169.1 420.5L172.4 421.3L175.8 416.5L179.1 410.8L182.5 406.4L185.8 393.7L189.1 390.4L192.5 382L195.8 386L199.2 381.6L202.5 380.5L205.8 398L209.2 403L212.5 402.5L215.9 407L219.2 406.3L222.5 398.3L225.9 388L229.2 392L232.5 405.8L235.9 391.4L239.2 392.5L242.6 384.2L245.9 390.3L249.2 381.5L252.6 377L255.9 379.8L259.3 372L262.6 373.5L265.9 371.1L269.3 376L272.6 367.7L276 378.7L279.3 390.3L282.6 390.9L286 389.8L289.3 394.7L292.7 381L296 371L299.3 367.5L302.7 371.9L306 367L309.3 366.4L312.7 361.4L316 367.5L319.4 373L322.7 370.8L326 371.3L329.4 378.5L332.7 365.8L336.1 369.7L339.4 361.4L342.7 362L346.1 363.6L349.4 358L352.8 353L356.1 350.4L359.4 357.7L362.8 359L366.1 352.6L369.4 346.7L372.8 355.9L376.1 347L379.5 348.5L382.8 343.4L386.1 341.9L389.5 337.1L392.8 341.3L396.2 338L399.5 330.3L402.8 328L406.2 323.6L409.5 324L412.9 313L416.2 317.6L419.5 311L422.9 306.5L426.2 309L429.6 308.8L432.9 309.7L436.2 304.6L439.6 303L442.9 295L446.2 302.7L449.6 311L452.9 324.4L456.3 325L459.6 340.9L462.9 339L466.3 348.5L469.6 338.4L473 344L476.3 339L479.6 328L483 329.5L486.3 317.4L489.7 309.7L493 292.6L496.3 293.7L499.7 293L503 310.8L506.3 305.8L509.7 306.4L513 313.5L516.4 303.6L519.7 297L523 295.3L526.4 270L529.7 263.6L533.1 263L536.4 261.8L539.7 247.5L543.1 242.8L546.4 238.6L549.8 249.3L553.1 261.2L556.4 241L559.8 246.4L563.1 230.3L566.5 237.4L569.8 215.5L573.1 223.8L576.5 232L579.8 227.4L583.1 226.7L586.5 249.9L589.8 251.9L593.2 232.2L596.5 243.7L599.8 246.5L603.2 264L606.5 243L609.9 236.3L613.2 228L616.5 224.7L619.9 256L623.2 232.9L626.6 207L629.9 201.6L633.2 192L636.6 186.6L639.9 182L643.2 189.4L646.6 194.8L649.9 162.9L653.3 175L656.6 149.3L659.9 148.6L663.3 162.2L666.6 154.7L670 167.6L673.3 173L676.6 169L680 183.9L683.3 156.2L686.7 133.3L690 189.5L693.3 183.7L696.7 214.5L700 233.2L703.3 243.7L706.7 257.6L710 241.8L713.4 233.4L716.7 249.7L720 266L723.4 232.5L726.7 235.3L730.1 209.9L733.4 175L736.7 168.8L740.1 148.4L743.4 159.3L746.8 151.2L750.1 129.4L753.4 133.5L756.8 130.8L760.1 117.2" fill="none" stroke="#66b052" stroke-width="1.2"/>
<path d="M8.4 473.5h0.8V475h-0.8ZM11.8 473.5h0.8V475h-0.8ZM15.1 472.5h0.8V475h-0.8ZM18.5 470.5h0.8V475h-0.8ZM21.8 465.5h0.8V471h-0.8ZM25.1 463h0.8V466h-0.8ZM28.5 462h0.8V464h-0.8ZM31.8 461.5h0.8V465.5h-0.8ZM35.1 458.5h0.8V463h-0.8ZM38.5 454.5h0.8V459h-0.8ZM41.8 454.5h0.8V458h-0.8ZM45.2 454.5h0.8V457.5h-0.8ZM48.5 453h0.8V456h-0.8ZM51.8 450h0.8V454h-0.8ZM55.2 451h0.8V457h-0.8ZM58.5 453h0.8V457.5h-0.8ZM61.9 451.5h0.8V454h-0.8ZM65.2 445h0.8V456h-0.8ZM68.5 446h0.8V449h-0.8ZM71.9 443h0.8V446.5h-0.8ZM75.2 446h0.8V454.5h-0.8ZM78.6 447.5h0.8V453.5h-0.8ZM81.9 444.5h0.8V446h-0.8ZM85.2 443.5h0.8V446.5h-0.8ZM88.6 436h0.8V448.5h-0.8ZM91.9 435h0.8V442.5h-0.8ZM95.3 433h0.8V439h-0.8ZM98.6 432.5h0.8V438h-0.8ZM101.9 434h0.8V442.5h-0.8ZM105.3 432h0.8V437.5h-0.8ZM108.6 427.5h0.8V431.5h-0.8ZM111.9 424.5h0.8V428h-0.8ZM115.3 423h0.8V429h-0.8ZM118.6 422.5h0.8V425h-0.8ZM122 419.5h0.8V425h-0.8ZM125.3 418.7h0.8V425.8h-0.8ZM128.6 423h0.8V431h-0.8ZM132 425.5h0.8V429h-0.8ZM135.3 423h0.8V430h-0.8ZM138.7 427h0.8V429.5h-0.8ZM142 428h0.8V437h-0.8ZM145.3 429h0.8V434h-0.8ZM148.7 429.5h0.8V433.5h-0.8ZM152 431h0.8V437h-0.8ZM155.4 431.5h0.8V434.5h-0.8ZM158.7 431h0.8V437.5h-0.8ZM162 430.5h0.8V434.5h-0.8ZM165.4 426.5h0.8V433h-0.8ZM168.7 421h0.8V431.5h-0.8ZM172 424h0.8V428.5h-0.8ZM175.4 416.5h0.8V424.5h-0.8ZM178.7 402.5h0.8V418h-0.8ZM182.1 401h0.8V405.5h-0.8ZM185.4 399h0.8V404.5h-0.8ZM188.7 399.5h0.8V405h-0.8ZM192.1 400h0.8V405h-0.8ZM195.4 401.5h0.8V410.5h-0.8ZM198.8 404.5h0.8V408.5h-0.8ZM202.1 400h0.8V407.5h-0.8ZM205.4 396h0.8V401.5h-0.8ZM208.8 396h0.8V408h-0.8ZM212.1 393.5h0.8V402.6h-0.8ZM215.5 396.5h0.8V402h-0.8ZM218.8 396h0.8V402.5h-0.8ZM222.1 394.5h0.8V408h-0.8ZM225.5 401.5h0.8V407.5h-0.8ZM228.8 403.5h0.8V411.5h-0.8ZM232.1 406.5h0.8V414.5h-0.8ZM235.5 403.5h0.8V407.5h-0.8ZM238.8 401h0.8V413.8h-0.8ZM242.2 407.5h0.8V415.5h-0.8ZM245.5 412.5h0.8V422.8h-0.8ZM248.8 421h0.8V426h-0.8ZM252.2 416.5h0.8V423.5h-0.8ZM255.5 413.5h0.8V421.5h-0.8ZM258.9 415.5h0.8V420.5h-0.8ZM262.2 410.5h0.8V420.5h-0.8ZM265.5 406h0.8V413h-0.8ZM268.9 393.5h0.8V411.5h-0.8ZM272.2 390h0.8V398.5h-0.8ZM275.6 381.5h0.8V391.8h-0.8ZM278.9 379h0.8V386.5h-0.8ZM282.2 381h0.8V391h-0.8ZM285.6 380h0.8V385.5h-0.8ZM288.9 376h0.8V398.5h-0.8ZM292.3 397h0.8V403.5h-0.8ZM295.6 392.5h0.8V405h-0.8ZM298.9 402h0.8V413h-0.8ZM302.3 403h0.8V409.5h-0.8ZM305.6 394.5h0.8V405h-0.8ZM308.9 387.5h0.8V397.5h-0.8ZM312.3 378h0.8V392.5h-0.8ZM315.6 388.7h0.8V406h-0.8ZM319 391h0.8V403.5h-0.8ZM322.3 388h0.8V401h-0.8ZM325.6 384h0.8V395.5h-0.8ZM329 385h0.8V397.5h-0.8ZM332.3 381h0.8V390.5h-0.8ZM335.7 368.8h0.8V386.5h-0.8ZM339 377h0.8V385.5h-0.8ZM342.3 371.5h0.8V380h-0.8ZM345.7 369h0.8V375.5h-0.8ZM349 365.5h0.8V377.5h-0.8ZM352.4 368.5h0.8V378.5h-0.8ZM355.7 367.5h0.8V379h-0.8ZM359 367.5h0.8V379h-0.8ZM362.4 374h0.8V390.5h-0.8ZM365.7 386.5h0.8V393.6h-0.8ZM369 379h0.8V390h-0.8ZM372.4 384h0.8V395h-0.8ZM375.7 380.5h0.8V391.5h-0.8ZM379.1 370.5h0.8V382.5h-0.8ZM382.4 365.8h0.8V380h-0.8ZM385.7 366h0.8V372h-0.8ZM389.1 365.8h0.8V373.5h-0.8ZM392.4 364h0.8V370h-0.8ZM395.8 359.7h0.8V373h-0.8ZM399.1 362h0.8V368h-0.8ZM402.4 359.7h0.8V374h-0.8ZM405.8 370h0.8V376h-0.8ZM409.1 370.8h0.8V374h-0.8ZM412.5 373h0.8V381.8h-0.8ZM415.8 365.8h0.8V378.5h-0.8ZM419.1 364.7h0.8V373h-0.8ZM422.5 361.4h0.8V369.5h-0.8ZM425.8 360.8h0.8V366.4h-0.8ZM429.2 360.3h0.8V364h-0.8ZM432.5 355.8h0.8V364h-0.8ZM435.8 343.7h0.8V367.5h-0.8ZM439.2 349h0.8V355.9h-0.8ZM442.5 349h0.8V358h-0.8ZM445.8 353h0.8V362.5h-0.8ZM449.2 350.2h0.8V359h-0.8ZM452.5 345.5h0.8V352.5h-0.8ZM455.9 345.8h0.8V356h-0.8ZM459.2 347h0.8V356h-0.8ZM462.5 344.6h0.8V349h-0.8ZM465.9 342.4h0.8V347.9h-0.8ZM469.2 340.7h0.8V353h-0.8ZM472.6 336.9h0.8V343.7h-0.8ZM475.9 338.5h0.8V341.5h-0.8ZM479.2 336h0.8V348h-0.8ZM482.6 330.3h0.8V337h-0.8ZM485.9 328h0.8V332.5h-0.8ZM489.3 323.5h0.8V328.5h-0.8ZM492.6 319h0.8V327.5h-0.8ZM495.9 313h0.8V323h-0.8ZM499.3 314h0.8V318h-0.8ZM502.6 309.3h0.8V315.5h-0.8ZM505.9 306h0.8V314.2h-0.8ZM509.3 302h0.8V309h-0.8ZM512.6 305.2h0.8V314.8h-0.8ZM516 304h0.8V309.7h-0.8ZM519.3 304.6h0.8V312.3h-0.8ZM522.6 300.2h0.8V307.2h-0.8ZM526 295h0.8V303.4h-0.8ZM529.3 296.4h0.8V302.7h-0.8ZM532.7 300.8h0.8V311h-0.8ZM536 309.2h0.8V324.4h-0.8ZM539.3 318.6h0.8V325.5h-0.8ZM542.7 324.4h0.8V348.5h-0.8ZM546 330.7h0.8V342h-0.8ZM549.4 332h0.8V349.2h-0.8ZM552.7 338.4h0.8V350.5h-0.8ZM556 334h0.8V360.6h-0.8ZM559.4 337.7h0.8V348.5h-0.8ZM562.7 323.7h0.8V339h-0.8ZM566.1 326.9h0.8V329.5h-0.8ZM569.4 317.4h0.8V329.5h-0.8ZM572.7 309.7h0.8V323.5h-0.8ZM576.1 289.8h0.8V311h-0.8ZM579.4 288h0.8V297h-0.8ZM582.7 290h0.8V294h-0.8ZM586.1 292h0.8V311h-0.8ZM589.4 303h0.8V312h-0.8ZM592.8 305.8h0.8V310.2h-0.8ZM596.1 304h0.8V323.5h-0.8ZM599.4 302h0.8V316h-0.8ZM602.8 296h0.8V308h-0.8ZM606.1 293h0.8V302.5h-0.8ZM609.5 267.7h0.8V302h-0.8ZM612.8 261.8h0.8V271.6h-0.8ZM616.1 258.2h0.8V265.4h-0.8ZM619.5 259.4h0.8V269h-0.8ZM622.8 245.8h0.8V261.8h-0.8ZM626.2 240.4h0.8V249.3h-0.8ZM629.5 236.2h0.8V248.7h-0.8ZM632.8 237.4h0.8V253.5h-0.8ZM636.2 243.4h0.8V261.8h-0.8ZM639.5 239.8h0.8V259.4h-0.8ZM642.8 236.2h0.8V258.8h-0.8ZM646.2 228.5h0.8V242.8h-0.8ZM649.5 228.5h0.8V238h-0.8ZM652.9 213.7h0.8V238h-0.8ZM656.2 213h0.8V232h-0.8ZM659.5 222h0.8V235.7h-0.8ZM662.9 218.4h0.8V235h-0.8ZM666.2 217.2h0.8V236.3h-0.8ZM669.6 224h0.8V250h-0.8ZM672.9 247h0.8V259h-0.8ZM676.2 230h0.8V251.2h-0.8ZM679.6 234.9h0.8V259.4h-0.8ZM682.9 231.5h0.8V258h-0.8ZM686.3 230h0.8V265h-0.8ZM689.6 237.6h0.8V278.4h-0.8ZM692.9 231.5h0.8V245.1h-0.8ZM696.3 226.7h0.8V239h-0.8ZM699.6 224.7h0.8V232.2h-0.8ZM702.9 228.8h0.8V256.6h-0.8ZM706.3 229.5h0.8V258h-0.8ZM709.6 204.3h0.8V233.5h-0.8ZM713 190.7h0.8V208h-0.8ZM716.3 190.7h0.8V206.4h-0.8ZM719.6 184.6h0.8V197.5h-0.8ZM723 179.9h0.8V193.5h-0.8ZM726.3 178.5h0.8V192h-0.8ZM729.7 181.2h0.8V205h-0.8ZM733 160.8h0.8V196h-0.8ZM736.3 158.8h0.8V176h-0.8ZM739.7 147.9h0.8V173.7h-0.8ZM743 141.8h0.8V154h-0.8ZM746.4 145.9h0.8V163.5h-0.8ZM749.7 152.7h0.8V178.5h-0.8ZM753 149.3h0.8V175.8h-0.8ZM756.4 163.5h0.8V174.4h-0.8ZM759.7 167.6h0.8V184.6h-0.8ZM763.1 161.5h0.8V189.4h-0.8ZM766.4 150.9h0.8V189.4h-0.8ZM769.7 124.9h0.8V150h-0.8ZM773.1 180h0.8V208h-0.8ZM776.4 180h0.8V201h-0.8ZM779.7 181.9h0.8V216.4h-0.8ZM783.1 187.5h0.8V233.4h-0.8ZM786.4 224h0.8V249.3h-0.8ZM789.8 238h0.8V267h-0.8ZM793.1 240.9h0.8V273.5h-0.8ZM796.4 226.9h0.8V244.6h-0.8ZM799.8 220h0.8V252.5h-0.8ZM803.1 238h0.8V273h-0.8ZM806.5 231.4h0.8V278.6h-0.8ZM809.8 223h0.8V236h-0.8ZM813.1 209h0.8V252h-0.8ZM816.5 163.4h0.8V220h-0.8ZM819.8 164h0.8V181h-0.8ZM823.2 144.4h0.8V162h-0.8ZM826.5 143.7h0.8V174.9h-0.8ZM829.8 149.8h0.8V157.3h-0.8ZM833.2 126.7h0.8V155.9h-0.8ZM836.5 127.4h0.8V151.2h-0.8ZM839.8 123.3h0.8V138.3h-0.8ZM843.2 113.8h0.8V132.1h-0.8Z" fill="#333"/>
<path d="M7.9 474h1.8V475h-1.8ZM14.6 473h1.8V474h-1.8ZM18 471h1.8V474h-1.8ZM21.3 466h1.8V470.5h-1.8ZM24.6 463.5h1.8V465.5h-1.8ZM31.3 462h1.8V465h-1.8ZM34.6 459h1.8V462.5h-1.8ZM38 455h1.8V458.5h-1.8ZM44.7 455h1.8V457h-1.8ZM48 453.5h1.8V455.5h-1.8ZM51.3 450.5h1.8V453.5h-1.8ZM58 453.5h1.8V457h-1.8ZM61.4 452h1.8V453.5h-1.8ZM64.7 446.5h1.8V453.5h-1.8ZM68 446.5h1.8V448.5h-1.8ZM71.4 443.5h1.8V446.5h-1.8ZM78.1 448h1.8V453h-1.8ZM81.4 444.7h1.8V445.8h-1.8ZM88.1 439h1.8V448h-1.8ZM94.8 433.5h1.8V438.5h-1.8ZM101.4 434.8h1.8V442h-1.8ZM104.8 432.6h1.8V437.5h-1.8ZM108.1 427.6h1.8V431.5h-1.8ZM111.4 424.8h1.8V427.6h-1.8ZM114.8 423.5h1.8V428.5h-1.8ZM121.5 420.3h1.8V424.7h-1.8ZM131.5 425.8h1.8V428.6h-1.8ZM144.8 429.2h1.8V433.6h-1.8ZM151.5 431.4h1.8V433h-1.8ZM161.5 430.8h1.8V434h-1.8ZM164.9 427h1.8V432.5h-1.8ZM168.2 421.4h1.8V431.4h-1.8ZM171.5 424.4h1.8V428h-1.8ZM174.9 417h1.8V424.2h-1.8ZM178.2 402.7h1.8V418h-1.8ZM181.6 401.5h1.8V405.4h-1.8ZM184.9 399.3h1.8V402.6h-1.8ZM188.2 401h1.8V404.2h-1.8ZM201.6 400.4h1.8V407h-1.8ZM204.9 396.5h1.8V401.5h-1.8ZM215 397.2h1.8V401.5h-1.8ZM225 402h1.8V407h-1.8ZM231.6 407h1.8V414.2h-1.8ZM235 403.7h1.8V407h-1.8ZM248.3 421.4h1.8V425.8h-1.8ZM258.4 416.5h1.8V420h-1.8ZM261.7 410.8h1.8V420.2h-1.8ZM265 406.4h1.8V413h-1.8ZM268.4 393.7h1.8V411.4h-1.8ZM271.7 390.4h1.8V398h-1.8ZM275.1 382h1.8V391.5h-1.8ZM281.7 381.6h1.8V386h-1.8ZM285.1 380.5h1.8V385h-1.8ZM301.8 406.3h1.8V409h-1.8ZM305.1 398.3h1.8V404.7h-1.8ZM308.4 388h1.8V397h-1.8ZM318.5 391.4h1.8V403h-1.8ZM325.1 384.2h1.8V395.3h-1.8ZM331.8 381.5h1.8V390.3h-1.8ZM335.2 377h1.8V386h-1.8ZM341.8 372h1.8V379.8h-1.8ZM348.5 371.1h1.8V377h-1.8ZM355.2 367.7h1.8V378.7h-1.8ZM375.2 381h1.8V390.9h-1.8ZM378.6 371h1.8V382h-1.8ZM381.9 367.5h1.8V377.4h-1.8ZM388.6 367h1.8V372.4h-1.8ZM391.9 366.4h1.8V368.6h-1.8ZM395.3 361.4h1.8V367h-1.8ZM405.3 370.8h1.8V372.4h-1.8ZM408.6 371.3h1.8V373.5h-1.8ZM415.3 365.8h1.8V378h-1.8ZM422 361.4h1.8V369h-1.8ZM425.3 362h1.8V365.3h-1.8ZM432 358h1.8V363h-1.8ZM435.3 353h1.8V364h-1.8ZM438.7 350.4h1.8V352.6h-1.8ZM448.7 352.6h1.8V358.9h-1.8ZM452 346.7h1.8V352h-1.8ZM458.7 347h1.8V355.9h-1.8ZM465.4 343.4h1.8V347.9h-1.8ZM468.7 341.9h1.8V346h-1.8ZM472.1 337.1h1.8V342.4h-1.8ZM478.7 338h1.8V343.5h-1.8ZM482.1 330.3h1.8V336.9h-1.8ZM485.4 328h1.8V332h-1.8ZM488.8 323.6h1.8V328h-1.8ZM492.1 324h1.8V327.5h-1.8ZM495.4 313h1.8V323h-1.8ZM502.1 311h1.8V314.8h-1.8ZM505.4 306.5h1.8V314.2h-1.8ZM512.1 308.8h1.8V311h-1.8ZM518.8 304.6h1.8V312.3h-1.8ZM522.1 303h1.8V307.2h-1.8ZM525.5 295h1.8V303.4h-1.8ZM545.5 339h1.8V341.5h-1.8ZM552.2 338.4h1.8V350.5h-1.8ZM555.5 344h1.8V346.6h-1.8ZM558.9 339h1.8V344h-1.8ZM562.2 328h1.8V338.4h-1.8ZM568.9 317.4h1.8V329.5h-1.8ZM572.2 309.7h1.8V322.5h-1.8ZM575.6 292.6h1.8V310.8h-1.8ZM588.9 305.8h1.8V310.2h-1.8ZM592.3 306.4h1.8V309h-1.8ZM598.9 303.6h1.8V314h-1.8ZM602.3 297h1.8V305.3h-1.8ZM605.6 295.3h1.8V299.7h-1.8ZM609 270h1.8V300.8h-1.8ZM612.3 263.6h1.8V270.5h-1.8ZM619 261.8h1.8V264.8h-1.8ZM622.3 247.5h1.8V260h-1.8ZM625.7 242.8h1.8V247h-1.8ZM629 238.6h1.8V245.8h-1.8ZM639 241h1.8V258.2h-1.8ZM645.7 230.3h1.8V242.2h-1.8ZM652.4 215.5h1.8V236.8h-1.8ZM662.4 227.4h1.8V232.7h-1.8ZM665.7 226.7h1.8V228.8h-1.8ZM675.7 232.2h1.8V249.9h-1.8ZM689.1 243h1.8V275.7h-1.8ZM692.4 236.3h1.8V242.4h-1.8ZM695.8 228h1.8V237.6h-1.8ZM699.1 224.7h1.8V232.2h-1.8ZM705.8 232.9h1.8V255.3h-1.8ZM709.1 207h1.8V232.9h-1.8ZM712.5 201.6h1.8V206.4h-1.8ZM715.8 192h1.8V203h-1.8ZM719.1 186.6h1.8V196.8h-1.8ZM722.5 182h1.8V192h-1.8ZM732.5 162.9h1.8V194.8h-1.8ZM739.2 149.3h1.8V173h-1.8ZM742.5 148.6h1.8V150.6h-1.8ZM749.2 154.7h1.8V162h-1.8ZM759.2 169h1.8V179.9h-1.8ZM765.9 156.2h1.8V189h-1.8ZM769.2 133.3h1.8V149.4h-1.8ZM775.9 183.7h1.8V200.5h-1.8ZM792.6 241.8h1.8V267.9h-1.8ZM795.9 233.4h1.8V243.7h-1.8ZM806 232.5h1.8V273.5h-1.8ZM812.6 209.9h1.8V239h-1.8ZM816 175h1.8V218h-1.8ZM819.3 168.8h1.8V178.3h-1.8ZM822.7 148.4h1.8V158.6h-1.8ZM829.3 151.2h1.8V155.2h-1.8ZM832.7 129.4h1.8V151.2h-1.8ZM842.7 117.2h1.8V130.1h-1.8Z" fill="#8a8a8a" stroke="#222" stroke-width="0.5"/>
<path d="M11.3 474h1.8V475h-1.8ZM28 462.3h1.8V463.5h-1.8ZM41.3 455h1.8V457.5h-1.8ZM54.7 451.5h1.8V456.5h-1.8ZM74.7 446.5h1.8V454h-1.8ZM84.7 444h1.8V446.4h-1.8ZM91.4 435.3h1.8V439.5h-1.8ZM98.1 433h1.8V437.5h-1.8ZM118.1 422.6h1.8V424.8h-1.8ZM124.8 419h1.8V425.3h-1.8ZM128.1 423.6h1.8V430.8h-1.8ZM134.8 423.6h1.8V429.7h-1.8ZM138.2 427.5h1.8V429.2h-1.8ZM141.5 428.6h1.8V436.9h-1.8ZM148.2 429.7h1.8V433h-1.8ZM154.9 432h1.8V434h-1.8ZM158.2 431.4h1.8V437.4h-1.8ZM191.6 400.4h1.8V404.8h-1.8ZM194.9 402h1.8V406h-1.8ZM198.3 404.8h1.8V407h-1.8ZM208.3 397.6h1.8V401.5h-1.8ZM211.6 394h1.8V401.4h-1.8ZM218.3 396.5h1.8V401h-1.8ZM221.6 396.5h1.8V407h-1.8ZM228.3 403.7h1.8V411.4h-1.8ZM238.3 401.5h1.8V413.6h-1.8ZM241.7 408h1.8V415.3h-1.8ZM245 413h1.8V422.5h-1.8ZM251.7 417h1.8V420.5h-1.8ZM255 413.6h1.8V421.3h-1.8ZM278.4 379.3h1.8V386h-1.8ZM288.4 381.6h1.8V398h-1.8ZM291.8 397.6h1.8V403h-1.8ZM295.1 397.6h1.8V402.5h-1.8ZM298.4 402.5h1.8V407h-1.8ZM311.8 381.6h1.8V392h-1.8ZM315.1 389.2h1.8V405.8h-1.8ZM321.8 390h1.8V392.5h-1.8ZM328.5 386.5h1.8V390.3h-1.8ZM338.5 377.6h1.8V379.8h-1.8ZM345.2 369.3h1.8V373.5h-1.8ZM351.9 372.7h1.8V376h-1.8ZM358.5 367.7h1.8V378.7h-1.8ZM361.9 379.8h1.8V390.3h-1.8ZM365.2 389.2h1.8V390.9h-1.8ZM368.5 388h1.8V389.8h-1.8ZM371.9 384.2h1.8V394.7h-1.8ZM385.2 367.5h1.8V371.9h-1.8ZM398.6 362.5h1.8V367.5h-1.8ZM401.9 367h1.8V373h-1.8ZM412 373.5h1.8V378.5h-1.8ZM418.6 365.3h1.8V369.7h-1.8ZM428.7 361h1.8V363.6h-1.8ZM442 351.4h1.8V357.7h-1.8ZM445.3 354h1.8V359h-1.8ZM455.4 345.8h1.8V355.9h-1.8ZM462 345h1.8V348.5h-1.8ZM475.4 339h1.8V341.3h-1.8ZM498.8 314.3h1.8V317.6h-1.8ZM508.8 305.9h1.8V309h-1.8ZM515.5 304h1.8V309.7h-1.8ZM528.8 296.4h1.8V302.7h-1.8ZM532.2 300.8h1.8V311h-1.8ZM535.5 309.7h1.8V324.4h-1.8ZM538.8 322.5h1.8V325h-1.8ZM542.2 324.4h1.8V340.9h-1.8ZM548.9 336.5h1.8V348.5h-1.8ZM565.6 327h1.8V329.5h-1.8ZM578.9 292h1.8V293.7h-1.8ZM582.2 292h1.8V293h-1.8ZM585.6 292.6h1.8V310.8h-1.8ZM595.6 305h1.8V313.5h-1.8ZM615.6 261.2h1.8V263h-1.8ZM632.3 238h1.8V249.3h-1.8ZM635.7 244.6h1.8V261.2h-1.8ZM642.3 238h1.8V246.4h-1.8ZM649 229.7h1.8V237.4h-1.8ZM655.7 213.7h1.8V223.8h-1.8ZM659 223h1.8V232h-1.8ZM669.1 227.4h1.8V249.9h-1.8ZM672.4 247.8h1.8V251.9h-1.8ZM679.1 235.6h1.8V243.7h-1.8ZM682.4 239.7h1.8V246.5h-1.8ZM685.8 245h1.8V264h-1.8ZM702.4 230.1h1.8V256h-1.8ZM725.8 181.2h1.8V189.4h-1.8ZM729.2 186.6h1.8V194.8h-1.8ZM735.8 159.5h1.8V175h-1.8ZM745.9 147.9h1.8V162.2h-1.8ZM752.5 155.4h1.8V167.6h-1.8ZM755.9 167.6h1.8V173h-1.8ZM762.6 162.9h1.8V183.9h-1.8ZM772.6 181.5h1.8V189.5h-1.8ZM779.2 182.8h1.8V214.5h-1.8ZM782.6 213.6h1.8V233.2h-1.8ZM785.9 224.8h1.8V243.7h-1.8ZM789.3 240.9h1.8V257.6h-1.8ZM799.3 221h1.8V249.7h-1.8ZM802.6 254.9h1.8V266h-1.8ZM809.3 223.8h1.8V235.3h-1.8ZM826 155.9h1.8V159.3h-1.8ZM836 128.8h1.8V133.5h-1.8ZM839.3 129.4h1.8V130.8h-1.8Z" fill="#000"/>
</g>
<circle cx="19.5" cy="482.8" r="6.1" fill="#fff" stroke="#2962ff" stroke-width="1.5"/><text x="19.5" y="486.0" class="mk" fill="#2962ff" stroke="#2962ff">D</text>
<circle cx="63.3" cy="482.8" r="6.1" fill="#fff" stroke="#2962ff" stroke-width="1.5"/><text x="63.3" y="486.0" class="mk" fill="#2962ff" stroke="#2962ff">D</text>
<circle cx="109" cy="482.8" r="6.1" fill="#fff" stroke="#2962ff" stroke-width="1.5"/><text x="109" y="486.0" class="mk" fill="#2962ff" stroke="#2962ff">D</text>
<circle cx="149.7" cy="482.8" r="6.1" fill="#fff" stroke="#2962ff" stroke-width="1.5"/><text x="149.7" y="486.0" class="mk" fill="#2962ff" stroke="#2962ff">D</text>
<circle cx="193" cy="482.8" r="6.1" fill="#fff" stroke="#2962ff" stroke-width="1.5"/><text x="193" y="486.0" class="mk" fill="#2962ff" stroke="#2962ff">D</text>
<circle cx="240" cy="482.8" r="6.1" fill="#fff" stroke="#2962ff" stroke-width="1.5"/><text x="240" y="486.0" class="mk" fill="#2962ff" stroke="#2962ff">D</text>
<circle cx="282.6" cy="482.8" r="6.1" fill="#fff" stroke="#2962ff" stroke-width="1.5"/><text x="282.6" y="486.0" class="mk" fill="#2962ff" stroke="#2962ff">D</text>
<circle cx="322.7" cy="482.8" r="6.1" fill="#fff" stroke="#2962ff" stroke-width="1.5"/><text x="322.7" y="486.0" class="mk" fill="#2962ff" stroke="#2962ff">D</text>
<circle cx="366.4" cy="482.8" r="6.1" fill="#fff" stroke="#2962ff" stroke-width="1.5"/><text x="366.4" y="486.0" class="mk" fill="#2962ff" stroke="#2962ff">D</text>
<circle cx="409.7" cy="482.8" r="6.1" fill="#fff" stroke="#2962ff" stroke-width="1.5"/><text x="409.7" y="486.0" class="mk" fill="#2962ff" stroke="#2962ff">D</text>
<circle cx="456.4" cy="482.8" r="6.1" fill="#fff" stroke="#2962ff" stroke-width="1.5"/><text x="456.4" y="486.0" class="mk" fill="#2962ff" stroke="#2962ff">D</text>
<circle cx="496.4" cy="482.8" r="6.1" fill="#fff" stroke="#2962ff" stroke-width="1.5"/><text x="496.4" y="486.0" class="mk" fill="#2962ff" stroke="#2962ff">D</text>
<circle cx="539.7" cy="482.8" r="6.1" fill="#fff" stroke="#2962ff" stroke-width="1.5"/><text x="539.7" y="486.0" class="mk" fill="#2962ff" stroke="#2962ff">D</text>
<circle cx="583" cy="482.8" r="6.1" fill="#fff" stroke="#2962ff" stroke-width="1.5"/><text x="583" y="486.0" class="mk" fill="#2962ff" stroke="#2962ff">D</text>
<circle cx="633.2" cy="482.8" r="6.1" fill="#fff" stroke="#2962ff" stroke-width="1.5"/><text x="633.2" y="486.0" class="mk" fill="#2962ff" stroke="#2962ff">D</text>
<circle cx="673.3" cy="482.8" r="6.1" fill="#fff" stroke="#2962ff" stroke-width="1.5"/><text x="673.3" y="486.0" class="mk" fill="#2962ff" stroke="#2962ff">D</text>
<circle cx="716.5" cy="482.8" r="6.1" fill="#fff" stroke="#2962ff" stroke-width="1.5"/><text x="716.5" y="486.0" class="mk" fill="#2962ff" stroke="#2962ff">D</text>
<circle cx="760" cy="482.8" r="6.1" fill="#fff" stroke="#2962ff" stroke-width="1.5"/><text x="760" y="486.0" class="mk" fill="#2962ff" stroke="#2962ff">D</text>
<circle cx="803.3" cy="482.8" r="6.1" fill="#fff" stroke="#2962ff" stroke-width="1.5"/><text x="803.3" y="486.0" class="mk" fill="#2962ff" stroke="#2962ff">D</text>
<path d="M507.20000000000005 480.8L513.2 475.8L519.2 480.8V488.8H507.20000000000005Z" fill="#fff" stroke="#089981" stroke-width="1.5"/><text x="513.2" y="486.40000000000003" class="mk" fill="#089981" stroke="#089981">E</text>
<path d="M550.1 480.8L556.1 475.8L562.1 480.8V488.8H550.1Z" fill="#fff" stroke="#089981" stroke-width="1.5"/><text x="556.1" y="486.40000000000003" class="mk" fill="#089981" stroke="#089981">E</text>
<path d="M603.5 480.8L609.5 475.8L615.5 480.8V488.8H603.5Z" fill="#fff" stroke="#089981" stroke-width="1.5"/><text x="609.5" y="486.40000000000003" class="mk" fill="#089981" stroke="#089981">E</text>
<path d="M637.1 480.8L643.1 475.8L649.1 480.8V488.8H637.1Z" fill="#fff" stroke="#089981" stroke-width="1.5"/><text x="643.1" y="486.40000000000003" class="mk" fill="#089981" stroke="#089981">E</text>
<path d="M680.4 480.8L686.4 475.8L692.4 480.8V488.8H680.4Z" fill="#fff" stroke="#089981" stroke-width="1.5"/><text x="686.4" y="486.40000000000003" class="mk" fill="#089981" stroke="#089981">E</text>
<path d="M724.1 480.8L730.1 475.8L736.1 480.8V488.8H724.1Z" fill="#fff" stroke="#089981" stroke-width="1.5"/><text x="730.1" y="486.40000000000003" class="mk" fill="#089981" stroke="#089981">E</text>
<path d="M777.7 480.8L783.7 475.8L789.7 480.8V488.8H777.7Z" fill="#fff" stroke="#089981" stroke-width="1.5"/><text x="783.7" y="486.40000000000003" class="mk" fill="#089981" stroke="#089981">E</text>
<path d="M810.5 480.8L816.5 475.8L822.5 480.8V488.8H810.5Z" fill="#fff" stroke="#089981" stroke-width="1.5"/><text x="816.5" y="486.40000000000003" class="mk" fill="#089981" stroke="#089981">E</text>
<circle cx="842.7" cy="482.8" r="6" fill="#fff" stroke="#9c27b0" stroke-width="1.3"/>
<circle cx="847.3" cy="482.8" r="6.1" fill="#fff" stroke="#2962ff" stroke-width="1.5"/><text x="847.3" y="486.0" class="mk" fill="#2962ff" stroke="#2962ff">D</text>
<rect x="854" y="476.8" width="12" height="12" rx="1.5" fill="#fff" stroke="#e040fb" stroke-width="1.3"/><text x="860" y="486.2" class="mk" fill="#e040fb" stroke="#e040fb">E</text>
<rect x="7" y="503.5" width="927.5" height="35" fill="#f3e5fc"/>
<path d="M7 503.5H934M7 538.5H934" stroke="#bbbdc5" stroke-width="1" stroke-dasharray="3.5 3.7" fill="none"/>
<g clip-path="url(#cr)">
<path d="M7 506.1L8.8 504L12.2 502.4L15.5 500.5L18.9 498.5L22.2 496.5L25.5 495.7L28.9 495.2L32.2 494.5L35.5 492.9L38.9 492.9L42.2 496.4L45.6 495.1L48.9 493.8L52.2 494L55.6 500.6L58.9 499.5L62.3 497.9L65.6 496.4L68.9 495.9L72.3 495.5L75.6 511.6L79 507L82.3 504.8L85.6 507.2L89 502.5L92.3 503.2L95.7 499.9L99 505.3L102.3 503.7L105.7 502.4L109 499.8L112.3 498.4L115.7 497.8L119 499.9L122.4 497.6L125.7 504.8L129 511.6L132.4 508.2L135.7 512.5L139.1 512.2L142.4 520L145.7 514.1L149.1 517.6L152.4 516.4L155.8 518.8L159.1 521.8L162.4 516.4L165.8 513.7L169.1 510L172.4 513L175.8 508.5L179.1 502L182.5 501.5L185.8 500.7L189.1 502.5L192.5 506.5L195.8 507.7L199.2 508.8L202.5 505.1L205.8 503.1L209.2 508.5L212.5 508.5L215.9 506L219.2 510.2L222.5 516.1L225.9 512.7L229.2 520.6L232.5 517.5L235.9 515.3L239.2 522.7L242.6 523.8L245.9 528.3L249.2 527.4L252.6 526.6L255.9 527.2L259.3 522.9L262.6 518.4L265.9 515.3L269.3 508.1L272.6 506.5L276 502.9L279.3 506.6L282.6 504.7L286 504.2L289.3 518L292.7 521.1L296 520.7L299.3 523.5L302.7 523.1L306 517.8L309.3 512.2L312.7 515.1L316 523.4L319.4 516.1L322.7 516.7L326 513L329.4 516.6L332.7 512.7L336.1 510.9L339.4 512.7L342.7 509.5L346.1 510.5L349.4 509.5L352.8 513L356.1 509.3L359.4 516.4L362.8 522.6L366.1 522.9L369.4 522.3L372.8 524.9L376.1 517.4L379.5 513L382.8 511.6L386.1 514.3L389.5 512.1L392.8 511.9L396.2 509.7L399.5 513.9L402.8 517.5L406.2 516.3L409.5 516.6L412.9 521.4L416.2 514.4L419.5 516.9L422.9 512.9L426.2 513.3L429.6 514.4L432.9 511.5L436.2 509.2L439.6 508L442.9 513.7L446.2 514.7L449.6 511.3L452.9 508.4L456.3 515.3L459.6 511L462.9 512.1L466.3 509.7L469.6 509L473 506.8L476.3 510.3L479.6 508.7L483 505.3L486.3 504.3L489.7 502.6L493 503L496.3 498.9L499.7 503.3L503 500.8L506.3 499.3L509.7 501.7L513 501.7L516.4 502.6L519.7 500.5L523 499.8L526.4 496.9L529.7 504.9L533.1 512.2L536.4 521.4L539.7 521.7L543.1 530L546.4 528.7L549.8 532.9L553.1 526.4L556.4 528.9L559.8 525.9L563.1 519.9L566.5 520.7L569.8 514.9L573.1 511.8L576.5 506L579.8 506.7L583.1 506.5L586.5 516.7L589.8 514.7L593.2 515L596.5 518.8L599.8 514.5L603.2 512L606.5 511.3L609.9 503.5L613.2 501.9L616.5 501.8L619.9 501.5L623.2 498.1L626.6 497.1L629.9 496.3L633.2 503.5L636.6 510.4L639.9 504.7L643.2 507.6L646.6 503.6L649.9 507.2L653.3 502.3L656.6 506.2L659.9 509.8L663.3 508.6L666.6 508.5L670 518.3L673.3 519L676.6 513L680 517.3L683.3 518.3L686.7 524.1L690 517.6L693.3 515.7L696.7 513.5L700 512.6L703.3 522.9L706.7 516.7L710 511.2L713.4 510.1L716.7 508.3L720 507.3L723.4 506.4L726.7 509.2L730.1 511.2L733.4 504.9L736.7 509.1L740.1 504.7L743.4 504.5L746.8 509.3L750.1 507.9L753.4 512.2L756.8 513.9L760.1 513L763.5 517.9L766.8 511.4L770.1 507.2L773.5 521.4L776.8 520.2L780.1 526.1L783.5 529.2L786.8 530.8L790.2 532.9L793.5 529L796.8 527L800.2 529.8L803.5 532.4L806.9 524.6L810.2 525.1L813.5 519.9L816.9 514L820.2 513L823.6 510L826.9 512.5L830.2 511.3L833.6 508.1L836.9 509.1L840.2 508.7L843.6 506.6" fill="none" stroke="#3c3c3c" stroke-width="1"/>
</g>
<path d="M934.2 18V565M7 491.5H970M7 546.5H970" stroke="#8c8f99" stroke-width="1" fill="none"/>

<path d="M6.5 573.5H14.5V580.5H10.5V577H6.5Z" fill="#d9d9d9"/><circle cx="16.3" cy="575.2" r="1.6" fill="#d9d9d9"/><path d="M15 580.5L18.2 573.5H20.8L17.6 580.5Z" fill="#d9d9d9"/>
</svg>
<div class="t" style="left:6.8px;top:6.7px;font-size:8.4px;color:#d9d9d9;transform:scaleX(0.927);-webkit-text-stroke:0.2px #d9d9d9;-webkit-text-stroke:0.35px #d9d9d9;">MarkNewtonCMT published on TradingView.com, Jun 25, 2025 12:11 UTC-4</div>
<div class="t" style="left:11.7px;top:24.0px;font-size:9px;color:#5d606b;transform:scaleX(0.849);-webkit-text-stroke:0.2px #5d606b;">Quanta Services, Inc. · 1W · NYSE</div>
<div class="t" style="left:135.3px;top:24.0px;font-size:9px;color:#5d606b;transform:scaleX(0.743);-webkit-text-stroke:0.2px #5d606b;">O</div>
<div class="t" style="left:140.5px;top:24.0px;font-size:9px;color:#1a1c24;transform:scaleX(0.872);-webkit-text-stroke:0.2px #1a1c24;">361.00</div>
<div class="t" style="left:169.0px;top:24.0px;font-size:9px;color:#5d606b;transform:scaleX(0.892);-webkit-text-stroke:0.2px #5d606b;">H</div>
<div class="t" style="left:174.8px;top:24.0px;font-size:9px;color:#1a1c24;transform:scaleX(0.854);-webkit-text-stroke:0.2px #1a1c24;">375.33</div>
<div class="t" style="left:203.0px;top:24.0px;font-size:9px;color:#5d606b;transform:scaleX(0.879);-webkit-text-stroke:0.2px #5d606b;">L</div>
<div class="t" style="left:207.4px;top:24.0px;font-size:9px;color:#1a1c24;transform:scaleX(0.839);-webkit-text-stroke:0.2px #1a1c24;">358.38</div>
<div class="t" style="left:236.0px;top:24.0px;font-size:9px;color:#5d606b;transform:scaleX(0.846);-webkit-text-stroke:0.2px #5d606b;">C</div>
<div class="t" style="left:241.5px;top:24.0px;font-size:9px;color:#1a1c24;transform:scaleX(0.810);-webkit-text-stroke:0.2px #1a1c24;">372.21</div>
<div class="t" style="left:268.8px;top:24.0px;font-size:9px;color:#1a1c24;transform:scaleX(0.838);-webkit-text-stroke:0.2px #1a1c24;">+11.43 (+3.17%)</div>
<div class="t" style="left:11.7px;top:36.3px;font-size:9px;color:#5d606b;transform:scaleX(0.900);-webkit-text-stroke:0.2px #5d606b;">Ichimoku (9, 26, 52, 26)</div>
<div class="t" style="left:101.4px;top:36.3px;font-size:9px;color:#2196f3;transform:scaleX(0.872);-webkit-text-stroke:0.2px #2196f3;">328.25</div>
<div class="t" style="left:129.7px;top:36.3px;font-size:9px;color:#b22833;transform:scaleX(0.850);-webkit-text-stroke:0.2px #b22833;">301.21</div>
<div class="t" style="left:158.3px;top:36.3px;font-size:9px;color:#43a047;transform:scaleX(0.861);-webkit-text-stroke:0.2px #43a047;">372.21</div>
<div class="t" style="left:186.9px;top:36.3px;font-size:9px;color:#4caf50;transform:scaleX(0.861);-webkit-text-stroke:0.2px #4caf50;">314.73</div>
<div class="t" style="left:215.2px;top:36.3px;font-size:9px;color:#f06060;transform:scaleX(0.836);-webkit-text-stroke:0.2px #f06060;">301.21</div>
<div class="t" style="left:11.7px;top:47.7px;font-size:9px;color:#5d606b;transform:scaleX(0.903);-webkit-text-stroke:0.2px #5d606b;">Vol</div>
<div class="t" style="left:27.0px;top:47.7px;font-size:9px;color:#26a69a;transform:scaleX(0.912);-webkit-text-stroke:0.2px #26a69a;">2.25M</div>
<div class="t" style="left:11.7px;top:496.7px;font-size:9px;color:#5d606b;transform:scaleX(0.827);-webkit-text-stroke:0.2px #5d606b;">RSI (14, close)</div>
<div class="t" style="left:67.0px;top:496.7px;font-size:9px;color:#1a1c24;transform:scaleX(0.844);-webkit-text-stroke:0.2px #1a1c24;">66.62</div>
<div class="t" style="left:939.5px;top:461.0px;font-size:8.9px;color:#4f525b;transform:scaleX(0.889);-webkit-text-stroke:0.2px #4f525b;">60.00</div>
<div class="t" style="left:939.5px;top:438.7px;font-size:8.9px;color:#4f525b;transform:scaleX(0.889);-webkit-text-stroke:0.2px #4f525b;">80.00</div>
<div class="t" style="left:939.5px;top:416.5px;font-size:8.9px;color:#4f525b;transform:scaleX(0.874);-webkit-text-stroke:0.2px #4f525b;">100.00</div>
<div class="t" style="left:939.5px;top:394.3px;font-size:8.9px;color:#4f525b;transform:scaleX(0.874);-webkit-text-stroke:0.2px #4f525b;">120.00</div>
<div class="t" style="left:939.5px;top:372.1px;font-size:8.9px;color:#4f525b;transform:scaleX(0.874);-webkit-text-stroke:0.2px #4f525b;">140.00</div>
<div class="t" style="left:939.5px;top:349.8px;font-size:8.9px;color:#4f525b;transform:scaleX(0.874);-webkit-text-stroke:0.2px #4f525b;">160.00</div>
<div class="t" style="left:939.5px;top:327.6px;font-size:8.9px;color:#4f525b;transform:scaleX(0.874);-webkit-text-stroke:0.2px #4f525b;">180.00</div>
<div class="t" style="left:939.5px;top:305.4px;font-size:8.9px;color:#4f525b;transform:scaleX(0.874);-webkit-text-stroke:0.2px #4f525b;">200.00</div>
<div class="t" style="left:939.5px;top:283.2px;font-size:8.9px;color:#4f525b;transform:scaleX(0.874);-webkit-text-stroke:0.2px #4f525b;">220.00</div>
<div class="t" style="left:939.5px;top:260.9px;font-size:8.9px;color:#4f525b;transform:scaleX(0.874);-webkit-text-stroke:0.2px #4f525b;">240.00</div>
<div class="t" style="left:939.5px;top:238.7px;font-size:8.9px;color:#4f525b;transform:scaleX(0.874);-webkit-text-stroke:0.2px #4f525b;">260.00</div>
<div class="t" style="left:939.5px;top:216.5px;font-size:8.9px;color:#4f525b;transform:scaleX(0.874);-webkit-text-stroke:0.2px #4f525b;">280.00</div>
<div class="t" style="left:939.5px;top:194.2px;font-size:8.9px;color:#4f525b;transform:scaleX(0.874);-webkit-text-stroke:0.2px #4f525b;">300.00</div>
<div class="t" style="left:939.5px;top:172.0px;font-size:8.9px;color:#4f525b;transform:scaleX(0.874);-webkit-text-stroke:0.2px #4f525b;">320.00</div>
<div class="t" style="left:939.5px;top:149.8px;font-size:8.9px;color:#4f525b;transform:scaleX(0.874);-webkit-text-stroke:0.2px #4f525b;">340.00</div>
<div class="t" style="left:939.5px;top:127.6px;font-size:8.9px;color:#4f525b;transform:scaleX(0.874);-webkit-text-stroke:0.2px #4f525b;">360.00</div>
<div class="t" style="left:939.5px;top:105.3px;font-size:8.9px;color:#4f525b;transform:scaleX(0.874);-webkit-text-stroke:0.2px #4f525b;">380.00</div>
<div class="t" style="left:939.5px;top:83.1px;font-size:8.9px;color:#4f525b;transform:scaleX(0.874);-webkit-text-stroke:0.2px #4f525b;">400.00</div>
<div class="t" style="left:939.5px;top:60.9px;font-size:8.9px;color:#4f525b;transform:scaleX(0.874);-webkit-text-stroke:0.2px #4f525b;">420.00</div>
<div class="t" style="left:939.5px;top:38.7px;font-size:8.9px;color:#4f525b;transform:scaleX(0.874);-webkit-text-stroke:0.2px #4f525b;">440.00</div>
<div class="t" style="left:939.5px;top:483.0px;font-size:8.9px;color:#4f525b;transform:scaleX(0.889);-webkit-text-stroke:0.2px #4f525b;">40.00</div>
<div style="position:absolute;left:936px;top:112px;width:33px;height:21px;background:#fff"></div>
<div class="t" style="left:939.5px;top:112.9px;font-size:8.6px;color:#131722;font-weight:bold;transform:scaleX(0.905);-webkit-text-stroke:0.2px #131722;">372.21</div>
<div class="t" style="left:939.5px;top:123.1px;font-size:8.6px;color:#131722;transform:scaleX(0.883);-webkit-text-stroke:0.2px #131722;">2d 4h</div>
<div class="t" style="left:939.5px;top:494.5px;font-size:8.8px;color:#4f525b;transform:scaleX(0.908);-webkit-text-stroke:0.2px #4f525b;">75.00</div>
<div class="t" style="left:939.5px;top:516.5px;font-size:8.8px;color:#4f525b;transform:scaleX(0.908);-webkit-text-stroke:0.2px #4f525b;">50.00</div>
<div class="t" style="left:939.5px;top:538.3px;font-size:8.8px;color:#4f525b;transform:scaleX(0.908);-webkit-text-stroke:0.2px #4f525b;">25.00</div>
<div class="t" style="left:56.5px;top:551.0px;font-size:8.9px;color:#3e414a;transform:scaleX(0.904);-webkit-text-stroke:0.2px #3e414a;">2021</div>
<div class="t" style="left:147.3px;top:551.0px;font-size:8.9px;color:#3e414a;transform:scaleX(0.905);-webkit-text-stroke:0.2px #3e414a;">Jul</div>
<div class="t" style="left:230.3px;top:551.0px;font-size:8.9px;color:#3e414a;transform:scaleX(0.894);-webkit-text-stroke:0.2px #3e414a;">2022</div>
<div class="t" style="left:321.1px;top:551.0px;font-size:8.9px;color:#3e414a;transform:scaleX(0.888);-webkit-text-stroke:0.2px #3e414a;">Jul</div>
<div class="t" style="left:403.6px;top:551.0px;font-size:8.9px;color:#3e414a;transform:scaleX(0.899);-webkit-text-stroke:0.2px #3e414a;">2023</div>
<div class="t" style="left:494.2px;top:551.0px;font-size:8.9px;color:#3e414a;transform:scaleX(0.897);-webkit-text-stroke:0.2px #3e414a;">Jul</div>
<div class="t" style="left:577.5px;top:551.0px;font-size:8.9px;color:#3e414a;transform:scaleX(0.894);-webkit-text-stroke:0.2px #3e414a;">2024</div>
<div class="t" style="left:667.9px;top:551.0px;font-size:8.9px;color:#3e414a;transform:scaleX(0.879);-webkit-text-stroke:0.2px #3e414a;">Jul</div>
<div class="t" style="left:754.3px;top:551.0px;font-size:8.9px;color:#3e414a;transform:scaleX(0.909);-webkit-text-stroke:0.2px #3e414a;">2025</div>
<div class="t" style="left:844.7px;top:551.0px;font-size:8.9px;color:#3e414a;transform:scaleX(0.888);-webkit-text-stroke:0.2px #3e414a;">Jul</div>
<div class="t" style="left:22.1px;top:572.8px;font-size:9.6px;color:#d9d9d9;font-weight:bold;transform:scaleX(0.814);-webkit-text-stroke:0.2px #d9d9d9;">TradingView</div>
<div style="position:absolute;left:935.5px;top:19px;width:33px;height:22.3px;background:#fff"></div><div style="position:absolute;left:936px;top:21px;width:31px;height:17px;border:1px solid #ececec;border-radius:3px;box-sizing:border-box;background:#fff"></div>
<div class="t" style="left:942.4px;top:25.6px;font-size:9px;color:#131722;transform:scaleX(0.716);-webkit-text-stroke:0.2px #131722;">USD</div>
</body></html>
